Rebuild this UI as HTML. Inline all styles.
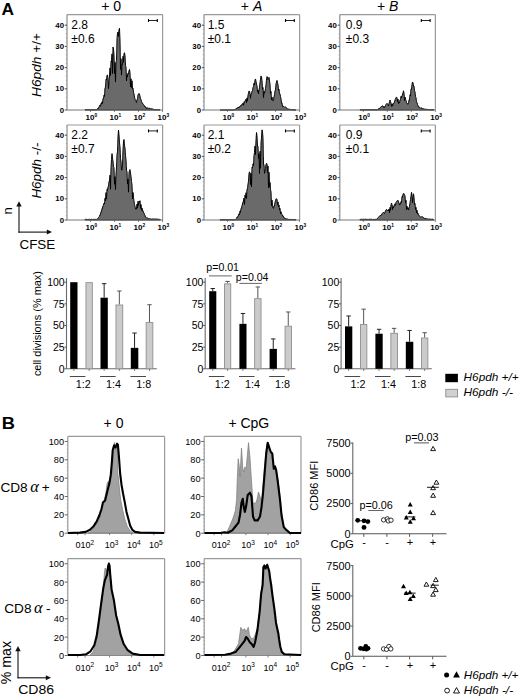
<!DOCTYPE html>
<html><head><meta charset="utf-8"><style>
html,body{margin:0;padding:0;background:#fff;}
svg{display:block;font-family:"Liberation Sans",sans-serif;}
</style></head><body>
<svg width="520" height="698" viewBox="0 0 520 698">
<defs><filter id="bl" x="-5%" y="-5%" width="110%" height="110%"><feGaussianBlur stdDeviation="0.3"/></filter></defs>
<rect width="520" height="698" fill="#fff"/>
<text x="1.50" y="15.00" font-size="16" font-weight="bold" textLength="12.5" lengthAdjust="spacingAndGlyphs">A</text>
<text x="101.20" y="11.30" font-size="14" textLength="20" lengthAdjust="spacingAndGlyphs">+ 0</text>
<text x="240.8" y="11.4" font-size="14">+ <tspan font-style="italic">A</tspan></text>
<text x="377" y="11.1" font-size="14">+ <tspan font-style="italic">B</tspan></text>
<path d="M85.00,110.00 L85.00,109.70 L85.50,109.79 L86.00,109.70 L86.50,109.73 L87.00,109.69 L87.50,109.77 L88.00,109.70 L88.50,109.78 L89.00,109.69 L89.50,109.71 L90.00,109.69 L90.50,109.72 L91.00,109.69 L91.50,109.70 L92.00,109.70 L92.50,109.80 L93.00,109.70 L93.50,109.72 L94.00,109.70 L94.50,109.73 L95.00,109.70 L95.50,109.71 L96.00,109.70 L96.50,109.71 L97.00,109.07 L97.50,108.71 L98.00,107.86 L98.50,108.35 L99.00,106.59 L99.50,106.20 L100.00,105.02 L100.50,106.25 L101.00,103.48 L101.50,104.14 L102.00,101.82 L102.50,103.43 L103.00,98.44 L103.50,98.56 L104.00,95.16 L104.50,96.46 L105.00,87.58 L105.50,87.32 L106.00,79.26 L106.50,79.98 L107.00,75.20 L107.50,75.13 L108.00,77.99 L108.50,88.66 L109.00,80.68 L109.50,77.14 L110.00,67.85 L110.50,75.41 L111.00,61.13 L111.50,61.82 L112.00,53.85 L112.50,73.55 L113.00,47.03 L113.50,49.16 L114.00,54.37 L114.50,73.52 L115.00,62.64 L115.50,82.08 L116.00,61.64 L116.50,60.75 L117.00,38.78 L117.50,32.85 L118.00,32.03 L118.50,36.47 L119.00,29.50 L119.50,28.33 L120.00,40.00 L120.50,69.36 L121.00,58.74 L121.50,75.18 L122.00,63.93 L122.50,64.42 L123.00,56.25 L123.50,62.28 L124.00,53.27 L124.50,52.82 L125.00,55.44 L125.50,65.78 L126.00,66.90 L126.50,80.89 L127.00,74.59 L127.50,76.95 L128.00,73.04 L128.50,73.81 L129.00,70.76 L129.50,69.46 L130.00,72.53 L130.50,86.94 L131.00,78.76 L131.50,87.62 L132.00,80.75 L132.50,88.93 L133.00,88.15 L133.50,92.34 L134.00,93.95 L134.50,97.19 L135.00,99.09 L135.50,100.34 L136.00,101.13 L136.50,102.50 L137.00,99.68 L137.50,98.63 L138.00,94.87 L138.50,94.05 L139.00,93.37 L139.50,94.25 L140.00,96.16 L140.50,98.94 L141.00,99.48 L141.50,101.59 L142.00,102.32 L142.50,103.46 L143.00,103.63 L143.50,104.46 L144.00,105.11 L144.50,106.52 L145.00,106.12 L145.50,107.34 L146.00,107.18 L146.50,108.58 L147.00,107.75 L147.50,107.99 L148.00,107.93 L148.50,108.31 L149.00,108.09 L149.50,108.24 L150.00,108.25 L150.50,108.85 L151.00,108.43 L151.50,108.71 L152.00,108.68 L152.50,108.93 L153.00,108.97 L153.50,109.35 L154.00,109.21 L154.50,109.59 L155.00,109.49 L155.50,109.74 L156.00,109.69 L156.50,109.73 L157.00,109.70 L157.50,109.72 L158.00,109.70 L158.50,109.71 L159.00,109.69 L159.50,109.72 L160.00,109.70 L160.00,110.00 Z" fill="#6b6b6b" stroke="#000" stroke-width="0.95" stroke-linejoin="miter" filter="url(#bl)"/>
<line x1="67.00" y1="14.60" x2="162.60" y2="14.60" stroke="#9a9a9a" stroke-width="1.2"/>
<line x1="162.60" y1="14.60" x2="162.60" y2="110.00" stroke="#9a9a9a" stroke-width="1.2"/>
<line x1="67.00" y1="14.60" x2="67.00" y2="110.00" stroke="#8c8c8c" stroke-width="1.2"/>
<line x1="67.00" y1="110.00" x2="162.60" y2="110.00" stroke="#777" stroke-width="1.2"/>
<line x1="65.80" y1="105.76" x2="67.00" y2="105.76" stroke="#999" stroke-width="0.8"/>
<line x1="65.80" y1="101.52" x2="67.00" y2="101.52" stroke="#999" stroke-width="0.8"/>
<line x1="65.80" y1="97.28" x2="67.00" y2="97.28" stroke="#999" stroke-width="0.8"/>
<line x1="65.80" y1="93.04" x2="67.00" y2="93.04" stroke="#999" stroke-width="0.8"/>
<line x1="65.80" y1="88.80" x2="67.00" y2="88.80" stroke="#999" stroke-width="0.8"/>
<line x1="65.80" y1="84.56" x2="67.00" y2="84.56" stroke="#999" stroke-width="0.8"/>
<line x1="65.80" y1="80.32" x2="67.00" y2="80.32" stroke="#999" stroke-width="0.8"/>
<line x1="65.80" y1="76.08" x2="67.00" y2="76.08" stroke="#999" stroke-width="0.8"/>
<line x1="65.80" y1="71.84" x2="67.00" y2="71.84" stroke="#999" stroke-width="0.8"/>
<line x1="65.80" y1="67.60" x2="67.00" y2="67.60" stroke="#999" stroke-width="0.8"/>
<line x1="65.80" y1="63.36" x2="67.00" y2="63.36" stroke="#999" stroke-width="0.8"/>
<line x1="65.80" y1="59.12" x2="67.00" y2="59.12" stroke="#999" stroke-width="0.8"/>
<line x1="65.80" y1="54.88" x2="67.00" y2="54.88" stroke="#999" stroke-width="0.8"/>
<line x1="65.80" y1="50.64" x2="67.00" y2="50.64" stroke="#999" stroke-width="0.8"/>
<line x1="65.80" y1="46.40" x2="67.00" y2="46.40" stroke="#999" stroke-width="0.8"/>
<line x1="65.80" y1="42.16" x2="67.00" y2="42.16" stroke="#999" stroke-width="0.8"/>
<line x1="65.80" y1="37.92" x2="67.00" y2="37.92" stroke="#999" stroke-width="0.8"/>
<line x1="65.80" y1="33.68" x2="67.00" y2="33.68" stroke="#999" stroke-width="0.8"/>
<line x1="65.80" y1="29.44" x2="67.00" y2="29.44" stroke="#999" stroke-width="0.8"/>
<line x1="65.80" y1="25.20" x2="67.00" y2="25.20" stroke="#999" stroke-width="0.8"/>
<line x1="64.80" y1="110.00" x2="67.00" y2="110.00" stroke="#555" stroke-width="1"/>
<text x="64.00" y="112.60" font-size="7.8" font-weight="bold" text-anchor="end">0</text>
<line x1="64.80" y1="88.80" x2="67.00" y2="88.80" stroke="#555" stroke-width="1"/>
<text x="64.00" y="91.40" font-size="7.8" font-weight="bold" text-anchor="end">10</text>
<line x1="64.80" y1="67.60" x2="67.00" y2="67.60" stroke="#555" stroke-width="1"/>
<text x="64.00" y="70.20" font-size="7.8" font-weight="bold" text-anchor="end">20</text>
<line x1="64.80" y1="46.40" x2="67.00" y2="46.40" stroke="#555" stroke-width="1"/>
<text x="64.00" y="49.00" font-size="7.8" font-weight="bold" text-anchor="end">30</text>
<line x1="64.80" y1="25.20" x2="67.00" y2="25.20" stroke="#555" stroke-width="1"/>
<text x="64.00" y="27.80" font-size="7.8" font-weight="bold" text-anchor="end">40</text>
<line x1="90.50" y1="110.00" x2="90.50" y2="112.00" stroke="#666" stroke-width="0.8"/>
<text x="85.50" y="119.70" font-size="8" font-weight="bold">10<tspan font-size="4.8" dy="-3.0">0</tspan></text>
<line x1="114.50" y1="110.00" x2="114.50" y2="112.00" stroke="#666" stroke-width="0.8"/>
<text x="109.50" y="119.70" font-size="8" font-weight="bold">10<tspan font-size="4.8" dy="-3.0">1</tspan></text>
<line x1="138.50" y1="110.00" x2="138.50" y2="112.00" stroke="#666" stroke-width="0.8"/>
<text x="133.50" y="119.70" font-size="8" font-weight="bold">10<tspan font-size="4.8" dy="-3.0">2</tspan></text>
<line x1="162.50" y1="110.00" x2="162.50" y2="112.00" stroke="#666" stroke-width="0.8"/>
<text x="157.50" y="119.70" font-size="8" font-weight="bold">10<tspan font-size="4.8" dy="-3.0">3</tspan></text>
<line x1="148.50" y1="20.50" x2="157.30" y2="20.50" stroke="#222" stroke-width="1"/>
<line x1="148.50" y1="19.00" x2="148.50" y2="22.00" stroke="#000" stroke-width="1.1"/>
<line x1="157.30" y1="19.00" x2="157.30" y2="22.00" stroke="#000" stroke-width="1.1"/>
<text x="71.30" y="28.80" font-size="12">2.8</text>
<text x="71.30" y="42.70" font-size="12">±0.6</text>
<path d="M220.00,110.00 L220.00,110.00 L220.50,110.00 L221.00,110.00 L221.50,110.00 L222.00,110.00 L222.50,110.00 L223.00,110.00 L223.50,110.00 L224.00,110.00 L224.50,110.00 L225.00,110.00 L225.50,110.00 L226.00,110.00 L226.50,110.00 L227.00,110.00 L227.50,110.00 L228.00,110.00 L228.50,110.00 L229.00,110.00 L229.50,110.00 L230.00,110.00 L230.50,110.00 L231.00,110.00 L231.50,110.00 L232.00,110.00 L232.50,110.00 L233.00,110.00 L233.50,110.00 L234.00,109.87 L234.50,109.73 L235.00,109.22 L235.50,109.17 L236.00,108.56 L236.50,108.48 L237.00,107.88 L237.50,107.97 L238.00,107.33 L238.50,108.03 L239.00,106.74 L239.50,107.08 L240.00,106.12 L240.50,106.11 L241.00,105.15 L241.50,105.66 L242.00,104.04 L242.50,104.20 L243.00,103.14 L243.50,105.30 L244.00,101.88 L244.50,102.54 L245.00,100.62 L245.50,100.61 L246.00,99.25 L246.50,102.56 L247.00,97.91 L247.50,100.77 L248.00,95.13 L248.50,93.22 L249.00,90.92 L249.50,91.25 L250.00,93.23 L250.50,98.29 L251.00,93.81 L251.50,93.53 L252.00,91.08 L252.50,90.68 L253.00,87.34 L253.50,86.65 L254.00,83.15 L254.50,84.90 L255.00,80.03 L255.50,78.96 L256.00,81.26 L256.50,84.14 L257.00,85.76 L257.50,91.84 L258.00,90.14 L258.50,93.84 L259.00,89.55 L259.50,87.74 L260.00,82.47 L260.50,79.27 L261.00,75.93 L261.50,76.92 L262.00,80.62 L262.50,89.26 L263.00,87.56 L263.50,97.56 L264.00,91.32 L264.50,93.29 L265.00,91.18 L265.50,88.60 L266.00,84.49 L266.50,80.14 L267.00,76.55 L267.50,78.27 L268.00,79.60 L268.50,78.11 L269.00,77.33 L269.50,80.96 L270.00,84.02 L270.50,93.56 L271.00,91.39 L271.50,99.82 L272.00,97.13 L272.50,99.83 L273.00,101.03 L273.50,99.77 L274.00,96.54 L274.50,94.95 L275.00,90.81 L275.50,89.85 L276.00,83.92 L276.50,82.07 L277.00,80.43 L277.50,82.59 L278.00,84.55 L278.50,90.45 L279.00,89.19 L279.50,93.67 L280.00,93.77 L280.50,96.50 L281.00,98.90 L281.50,102.96 L282.00,102.76 L282.50,106.47 L283.00,105.88 L283.50,106.63 L284.00,106.41 L284.50,107.25 L285.00,106.71 L285.50,107.13 L286.00,107.38 L286.50,107.86 L287.00,108.27 L287.50,108.79 L288.00,108.95 L288.50,109.07 L289.00,109.15 L289.50,109.28 L290.00,109.34 L290.50,109.48 L291.00,109.52 L291.50,109.72 L292.00,109.61 L292.50,109.70 L293.00,109.71 L293.50,109.77 L294.00,109.80 L294.50,109.86 L295.00,109.90 L295.50,109.96 L296.00,110.00 L296.00,110.00 Z" fill="#6b6b6b" stroke="#000" stroke-width="0.95" stroke-linejoin="miter" filter="url(#bl)"/>
<line x1="204.00" y1="14.60" x2="299.60" y2="14.60" stroke="#9a9a9a" stroke-width="1.2"/>
<line x1="299.60" y1="14.60" x2="299.60" y2="110.00" stroke="#9a9a9a" stroke-width="1.2"/>
<line x1="204.00" y1="14.60" x2="204.00" y2="110.00" stroke="#8c8c8c" stroke-width="1.2"/>
<line x1="204.00" y1="110.00" x2="299.60" y2="110.00" stroke="#777" stroke-width="1.2"/>
<line x1="202.80" y1="105.76" x2="204.00" y2="105.76" stroke="#999" stroke-width="0.8"/>
<line x1="202.80" y1="101.52" x2="204.00" y2="101.52" stroke="#999" stroke-width="0.8"/>
<line x1="202.80" y1="97.28" x2="204.00" y2="97.28" stroke="#999" stroke-width="0.8"/>
<line x1="202.80" y1="93.04" x2="204.00" y2="93.04" stroke="#999" stroke-width="0.8"/>
<line x1="202.80" y1="88.80" x2="204.00" y2="88.80" stroke="#999" stroke-width="0.8"/>
<line x1="202.80" y1="84.56" x2="204.00" y2="84.56" stroke="#999" stroke-width="0.8"/>
<line x1="202.80" y1="80.32" x2="204.00" y2="80.32" stroke="#999" stroke-width="0.8"/>
<line x1="202.80" y1="76.08" x2="204.00" y2="76.08" stroke="#999" stroke-width="0.8"/>
<line x1="202.80" y1="71.84" x2="204.00" y2="71.84" stroke="#999" stroke-width="0.8"/>
<line x1="202.80" y1="67.60" x2="204.00" y2="67.60" stroke="#999" stroke-width="0.8"/>
<line x1="202.80" y1="63.36" x2="204.00" y2="63.36" stroke="#999" stroke-width="0.8"/>
<line x1="202.80" y1="59.12" x2="204.00" y2="59.12" stroke="#999" stroke-width="0.8"/>
<line x1="202.80" y1="54.88" x2="204.00" y2="54.88" stroke="#999" stroke-width="0.8"/>
<line x1="202.80" y1="50.64" x2="204.00" y2="50.64" stroke="#999" stroke-width="0.8"/>
<line x1="202.80" y1="46.40" x2="204.00" y2="46.40" stroke="#999" stroke-width="0.8"/>
<line x1="202.80" y1="42.16" x2="204.00" y2="42.16" stroke="#999" stroke-width="0.8"/>
<line x1="202.80" y1="37.92" x2="204.00" y2="37.92" stroke="#999" stroke-width="0.8"/>
<line x1="202.80" y1="33.68" x2="204.00" y2="33.68" stroke="#999" stroke-width="0.8"/>
<line x1="202.80" y1="29.44" x2="204.00" y2="29.44" stroke="#999" stroke-width="0.8"/>
<line x1="202.80" y1="25.20" x2="204.00" y2="25.20" stroke="#999" stroke-width="0.8"/>
<line x1="201.80" y1="110.00" x2="204.00" y2="110.00" stroke="#555" stroke-width="1"/>
<text x="201.00" y="112.60" font-size="7.8" font-weight="bold" text-anchor="end">0</text>
<line x1="201.80" y1="88.80" x2="204.00" y2="88.80" stroke="#555" stroke-width="1"/>
<text x="201.00" y="91.40" font-size="7.8" font-weight="bold" text-anchor="end">10</text>
<line x1="201.80" y1="67.60" x2="204.00" y2="67.60" stroke="#555" stroke-width="1"/>
<text x="201.00" y="70.20" font-size="7.8" font-weight="bold" text-anchor="end">20</text>
<line x1="201.80" y1="46.40" x2="204.00" y2="46.40" stroke="#555" stroke-width="1"/>
<text x="201.00" y="49.00" font-size="7.8" font-weight="bold" text-anchor="end">30</text>
<line x1="201.80" y1="25.20" x2="204.00" y2="25.20" stroke="#555" stroke-width="1"/>
<text x="201.00" y="27.80" font-size="7.8" font-weight="bold" text-anchor="end">40</text>
<line x1="227.50" y1="110.00" x2="227.50" y2="112.00" stroke="#666" stroke-width="0.8"/>
<text x="222.50" y="119.70" font-size="8" font-weight="bold">10<tspan font-size="4.8" dy="-3.0">0</tspan></text>
<line x1="251.50" y1="110.00" x2="251.50" y2="112.00" stroke="#666" stroke-width="0.8"/>
<text x="246.50" y="119.70" font-size="8" font-weight="bold">10<tspan font-size="4.8" dy="-3.0">1</tspan></text>
<line x1="275.50" y1="110.00" x2="275.50" y2="112.00" stroke="#666" stroke-width="0.8"/>
<text x="270.50" y="119.70" font-size="8" font-weight="bold">10<tspan font-size="4.8" dy="-3.0">2</tspan></text>
<line x1="299.50" y1="110.00" x2="299.50" y2="112.00" stroke="#666" stroke-width="0.8"/>
<text x="294.50" y="119.70" font-size="8" font-weight="bold">10<tspan font-size="4.8" dy="-3.0">3</tspan></text>
<line x1="285.50" y1="20.50" x2="294.30" y2="20.50" stroke="#222" stroke-width="1"/>
<line x1="285.50" y1="19.00" x2="285.50" y2="22.00" stroke="#000" stroke-width="1.1"/>
<line x1="294.30" y1="19.00" x2="294.30" y2="22.00" stroke="#000" stroke-width="1.1"/>
<text x="207.70" y="28.80" font-size="12">1.5</text>
<text x="207.70" y="42.70" font-size="12">±0.1</text>
<path d="M360.00,110.00 L360.00,109.70 L360.50,109.74 L361.00,109.69 L361.50,109.74 L362.00,109.70 L362.50,109.78 L363.00,109.70 L363.50,109.81 L364.00,109.69 L364.50,109.74 L365.00,109.70 L365.50,109.76 L366.00,109.70 L366.50,109.77 L367.00,109.70 L367.50,109.77 L368.00,109.70 L368.50,109.72 L369.00,109.70 L369.50,109.77 L370.00,109.69 L370.50,109.80 L371.00,109.69 L371.50,109.74 L372.00,109.69 L372.50,109.70 L373.00,109.70 L373.50,109.81 L374.00,109.69 L374.50,109.72 L375.00,109.70 L375.50,109.72 L376.00,109.69 L376.50,109.80 L377.00,109.63 L377.50,109.53 L378.00,108.97 L378.50,108.75 L379.00,108.30 L379.50,108.66 L380.00,107.65 L380.50,107.44 L381.00,106.78 L381.50,106.51 L382.00,105.96 L382.50,105.80 L383.00,106.07 L383.50,107.48 L384.00,106.58 L384.50,107.63 L385.00,106.22 L385.50,105.76 L386.00,104.45 L386.50,103.76 L387.00,103.24 L387.50,103.96 L388.00,104.67 L388.50,106.02 L389.00,103.46 L389.50,101.80 L390.00,100.00 L390.50,101.53 L391.00,103.00 L391.50,106.38 L392.00,104.19 L392.50,106.17 L393.00,103.61 L393.50,104.15 L394.00,102.54 L394.50,102.12 L395.00,99.95 L395.50,98.71 L396.00,97.42 L396.50,97.22 L397.00,97.74 L397.50,101.59 L398.00,99.12 L398.50,103.70 L399.00,102.38 L399.50,103.01 L400.00,99.82 L400.50,99.81 L401.00,96.32 L401.50,97.80 L402.00,95.39 L402.50,95.21 L403.00,92.72 L403.50,90.80 L404.00,92.98 L404.50,100.59 L405.00,97.03 L405.50,99.20 L406.00,100.45 L406.50,102.59 L407.00,102.94 L407.50,104.07 L408.00,104.52 L408.50,103.71 L409.00,99.79 L409.50,100.06 L410.00,94.80 L410.50,95.88 L411.00,88.92 L411.50,89.17 L412.00,84.30 L412.50,81.97 L413.00,82.85 L413.50,86.01 L414.00,86.00 L414.50,90.59 L415.00,91.87 L415.50,96.54 L416.00,97.67 L416.50,101.78 L417.00,102.52 L417.50,104.42 L418.00,105.43 L418.50,107.02 L419.00,107.01 L419.50,107.31 L420.00,107.40 L420.50,108.24 L421.00,107.71 L421.50,108.01 L422.00,108.08 L422.50,108.81 L423.00,108.45 L423.50,108.64 L424.00,108.70 L424.50,109.15 L425.00,108.92 L425.50,109.11 L426.00,109.14 L426.50,109.42 L427.00,109.28 L427.50,109.39 L428.00,109.39 L428.50,109.49 L429.00,109.50 L429.50,109.61 L430.00,109.61 L430.50,109.69 L431.00,109.69 L431.50,109.81 L432.00,109.69 L432.50,109.79 L433.00,109.69 L433.50,109.79 L434.00,109.70 L434.00,110.00 Z" fill="#6b6b6b" stroke="#000" stroke-width="0.95" stroke-linejoin="miter" filter="url(#bl)"/>
<line x1="339.80" y1="14.60" x2="435.40" y2="14.60" stroke="#9a9a9a" stroke-width="1.2"/>
<line x1="435.40" y1="14.60" x2="435.40" y2="110.00" stroke="#9a9a9a" stroke-width="1.2"/>
<line x1="339.80" y1="14.60" x2="339.80" y2="110.00" stroke="#8c8c8c" stroke-width="1.2"/>
<line x1="339.80" y1="110.00" x2="435.40" y2="110.00" stroke="#777" stroke-width="1.2"/>
<line x1="338.60" y1="105.76" x2="339.80" y2="105.76" stroke="#999" stroke-width="0.8"/>
<line x1="338.60" y1="101.52" x2="339.80" y2="101.52" stroke="#999" stroke-width="0.8"/>
<line x1="338.60" y1="97.28" x2="339.80" y2="97.28" stroke="#999" stroke-width="0.8"/>
<line x1="338.60" y1="93.04" x2="339.80" y2="93.04" stroke="#999" stroke-width="0.8"/>
<line x1="338.60" y1="88.80" x2="339.80" y2="88.80" stroke="#999" stroke-width="0.8"/>
<line x1="338.60" y1="84.56" x2="339.80" y2="84.56" stroke="#999" stroke-width="0.8"/>
<line x1="338.60" y1="80.32" x2="339.80" y2="80.32" stroke="#999" stroke-width="0.8"/>
<line x1="338.60" y1="76.08" x2="339.80" y2="76.08" stroke="#999" stroke-width="0.8"/>
<line x1="338.60" y1="71.84" x2="339.80" y2="71.84" stroke="#999" stroke-width="0.8"/>
<line x1="338.60" y1="67.60" x2="339.80" y2="67.60" stroke="#999" stroke-width="0.8"/>
<line x1="338.60" y1="63.36" x2="339.80" y2="63.36" stroke="#999" stroke-width="0.8"/>
<line x1="338.60" y1="59.12" x2="339.80" y2="59.12" stroke="#999" stroke-width="0.8"/>
<line x1="338.60" y1="54.88" x2="339.80" y2="54.88" stroke="#999" stroke-width="0.8"/>
<line x1="338.60" y1="50.64" x2="339.80" y2="50.64" stroke="#999" stroke-width="0.8"/>
<line x1="338.60" y1="46.40" x2="339.80" y2="46.40" stroke="#999" stroke-width="0.8"/>
<line x1="338.60" y1="42.16" x2="339.80" y2="42.16" stroke="#999" stroke-width="0.8"/>
<line x1="338.60" y1="37.92" x2="339.80" y2="37.92" stroke="#999" stroke-width="0.8"/>
<line x1="338.60" y1="33.68" x2="339.80" y2="33.68" stroke="#999" stroke-width="0.8"/>
<line x1="338.60" y1="29.44" x2="339.80" y2="29.44" stroke="#999" stroke-width="0.8"/>
<line x1="338.60" y1="25.20" x2="339.80" y2="25.20" stroke="#999" stroke-width="0.8"/>
<line x1="337.60" y1="110.00" x2="339.80" y2="110.00" stroke="#555" stroke-width="1"/>
<text x="336.80" y="112.60" font-size="7.8" font-weight="bold" text-anchor="end">0</text>
<line x1="337.60" y1="88.80" x2="339.80" y2="88.80" stroke="#555" stroke-width="1"/>
<text x="336.80" y="91.40" font-size="7.8" font-weight="bold" text-anchor="end">10</text>
<line x1="337.60" y1="67.60" x2="339.80" y2="67.60" stroke="#555" stroke-width="1"/>
<text x="336.80" y="70.20" font-size="7.8" font-weight="bold" text-anchor="end">20</text>
<line x1="337.60" y1="46.40" x2="339.80" y2="46.40" stroke="#555" stroke-width="1"/>
<text x="336.80" y="49.00" font-size="7.8" font-weight="bold" text-anchor="end">30</text>
<line x1="337.60" y1="25.20" x2="339.80" y2="25.20" stroke="#555" stroke-width="1"/>
<text x="336.80" y="27.80" font-size="7.8" font-weight="bold" text-anchor="end">40</text>
<line x1="363.30" y1="110.00" x2="363.30" y2="112.00" stroke="#666" stroke-width="0.8"/>
<text x="358.30" y="119.70" font-size="8" font-weight="bold">10<tspan font-size="4.8" dy="-3.0">0</tspan></text>
<line x1="387.30" y1="110.00" x2="387.30" y2="112.00" stroke="#666" stroke-width="0.8"/>
<text x="382.30" y="119.70" font-size="8" font-weight="bold">10<tspan font-size="4.8" dy="-3.0">1</tspan></text>
<line x1="411.30" y1="110.00" x2="411.30" y2="112.00" stroke="#666" stroke-width="0.8"/>
<text x="406.30" y="119.70" font-size="8" font-weight="bold">10<tspan font-size="4.8" dy="-3.0">2</tspan></text>
<line x1="435.30" y1="110.00" x2="435.30" y2="112.00" stroke="#666" stroke-width="0.8"/>
<text x="430.30" y="119.70" font-size="8" font-weight="bold">10<tspan font-size="4.8" dy="-3.0">3</tspan></text>
<line x1="421.30" y1="20.50" x2="430.10" y2="20.50" stroke="#222" stroke-width="1"/>
<line x1="421.30" y1="19.00" x2="421.30" y2="22.00" stroke="#000" stroke-width="1.1"/>
<line x1="430.10" y1="19.00" x2="430.10" y2="22.00" stroke="#000" stroke-width="1.1"/>
<text x="345.80" y="28.80" font-size="12">0.9</text>
<text x="345.80" y="42.70" font-size="12">±0.3</text>
<path d="M85.00,220.00 L85.00,219.30 L85.50,219.32 L86.00,219.30 L86.50,219.32 L87.00,219.28 L87.50,219.49 L88.00,219.30 L88.50,219.38 L89.00,219.30 L89.50,219.31 L90.00,219.28 L90.50,219.50 L91.00,219.28 L91.50,219.32 L92.00,219.29 L92.50,219.47 L93.00,219.28 L93.50,219.33 L94.00,219.29 L94.50,219.37 L95.00,219.29 L95.50,219.34 L96.00,219.28 L96.50,219.39 L97.00,219.28 L97.50,219.16 L98.00,218.19 L98.50,217.77 L99.00,216.65 L99.50,216.25 L100.00,214.53 L100.50,214.68 L101.00,211.53 L101.50,211.56 L102.00,208.35 L102.50,208.47 L103.00,205.46 L103.50,205.15 L104.00,203.13 L104.50,204.06 L105.00,198.19 L105.50,200.95 L106.00,192.62 L106.50,199.05 L107.00,189.37 L107.50,190.49 L108.00,186.89 L108.50,186.13 L109.00,181.32 L109.50,181.73 L110.00,175.09 L110.50,189.19 L111.00,167.27 L111.50,159.68 L112.00,153.61 L112.50,158.15 L113.00,161.05 L113.50,166.85 L114.00,167.64 L114.50,184.23 L115.00,176.78 L115.50,189.56 L116.00,173.85 L116.50,167.94 L117.00,154.35 L117.50,151.76 L118.00,136.22 L118.50,130.00 L119.00,134.86 L119.50,142.86 L120.00,146.93 L120.50,158.65 L121.00,161.32 L121.50,170.19 L122.00,169.88 L122.50,164.85 L123.00,149.27 L123.50,141.96 L124.00,139.48 L124.50,145.29 L125.00,147.97 L125.50,155.54 L126.00,159.46 L126.50,170.22 L127.00,171.55 L127.50,183.76 L128.00,179.16 L128.50,192.16 L129.00,172.30 L129.50,170.51 L130.00,169.52 L130.50,173.09 L131.00,176.14 L131.50,181.58 L132.00,184.40 L132.50,198.96 L133.00,192.45 L133.50,197.32 L134.00,200.92 L134.50,204.60 L135.00,206.20 L135.50,209.07 L136.00,209.08 L136.50,209.07 L137.00,204.05 L137.50,208.12 L138.00,201.39 L138.50,205.41 L139.00,201.15 L139.50,202.48 L140.00,200.69 L140.50,208.31 L141.00,204.56 L141.50,210.33 L142.00,207.98 L142.50,210.92 L143.00,210.50 L143.50,212.55 L144.00,212.88 L144.50,214.59 L145.00,215.29 L145.50,217.14 L146.00,217.31 L146.50,217.73 L147.00,217.73 L147.50,217.99 L148.00,218.13 L148.50,218.62 L149.00,218.52 L149.50,218.78 L150.00,218.77 L150.50,218.86 L151.00,218.80 L151.50,219.13 L152.00,218.77 L152.50,218.99 L153.00,218.79 L153.50,219.01 L154.00,218.77 L154.50,219.10 L155.00,218.85 L155.50,218.91 L156.00,218.93 L156.50,219.12 L157.00,219.01 L157.50,219.09 L158.00,219.09 L158.50,219.23 L159.00,219.17 L159.50,219.42 L160.00,219.26 L160.40,220.00 Z" fill="#6b6b6b" stroke="#000" stroke-width="0.95" stroke-linejoin="miter" filter="url(#bl)"/>
<line x1="67.00" y1="125.00" x2="162.60" y2="125.00" stroke="#9a9a9a" stroke-width="1.2"/>
<line x1="162.60" y1="125.00" x2="162.60" y2="220.00" stroke="#9a9a9a" stroke-width="1.2"/>
<line x1="67.00" y1="125.00" x2="67.00" y2="220.00" stroke="#8c8c8c" stroke-width="1.2"/>
<line x1="67.00" y1="220.00" x2="162.60" y2="220.00" stroke="#777" stroke-width="1.2"/>
<line x1="65.80" y1="215.76" x2="67.00" y2="215.76" stroke="#999" stroke-width="0.8"/>
<line x1="65.80" y1="211.52" x2="67.00" y2="211.52" stroke="#999" stroke-width="0.8"/>
<line x1="65.80" y1="207.28" x2="67.00" y2="207.28" stroke="#999" stroke-width="0.8"/>
<line x1="65.80" y1="203.04" x2="67.00" y2="203.04" stroke="#999" stroke-width="0.8"/>
<line x1="65.80" y1="198.80" x2="67.00" y2="198.80" stroke="#999" stroke-width="0.8"/>
<line x1="65.80" y1="194.56" x2="67.00" y2="194.56" stroke="#999" stroke-width="0.8"/>
<line x1="65.80" y1="190.32" x2="67.00" y2="190.32" stroke="#999" stroke-width="0.8"/>
<line x1="65.80" y1="186.08" x2="67.00" y2="186.08" stroke="#999" stroke-width="0.8"/>
<line x1="65.80" y1="181.84" x2="67.00" y2="181.84" stroke="#999" stroke-width="0.8"/>
<line x1="65.80" y1="177.60" x2="67.00" y2="177.60" stroke="#999" stroke-width="0.8"/>
<line x1="65.80" y1="173.36" x2="67.00" y2="173.36" stroke="#999" stroke-width="0.8"/>
<line x1="65.80" y1="169.12" x2="67.00" y2="169.12" stroke="#999" stroke-width="0.8"/>
<line x1="65.80" y1="164.88" x2="67.00" y2="164.88" stroke="#999" stroke-width="0.8"/>
<line x1="65.80" y1="160.64" x2="67.00" y2="160.64" stroke="#999" stroke-width="0.8"/>
<line x1="65.80" y1="156.40" x2="67.00" y2="156.40" stroke="#999" stroke-width="0.8"/>
<line x1="65.80" y1="152.16" x2="67.00" y2="152.16" stroke="#999" stroke-width="0.8"/>
<line x1="65.80" y1="147.92" x2="67.00" y2="147.92" stroke="#999" stroke-width="0.8"/>
<line x1="65.80" y1="143.68" x2="67.00" y2="143.68" stroke="#999" stroke-width="0.8"/>
<line x1="65.80" y1="139.44" x2="67.00" y2="139.44" stroke="#999" stroke-width="0.8"/>
<line x1="65.80" y1="135.20" x2="67.00" y2="135.20" stroke="#999" stroke-width="0.8"/>
<line x1="64.80" y1="220.00" x2="67.00" y2="220.00" stroke="#555" stroke-width="1"/>
<text x="64.00" y="222.60" font-size="7.8" font-weight="bold" text-anchor="end">0</text>
<line x1="64.80" y1="198.80" x2="67.00" y2="198.80" stroke="#555" stroke-width="1"/>
<text x="64.00" y="201.40" font-size="7.8" font-weight="bold" text-anchor="end">10</text>
<line x1="64.80" y1="177.60" x2="67.00" y2="177.60" stroke="#555" stroke-width="1"/>
<text x="64.00" y="180.20" font-size="7.8" font-weight="bold" text-anchor="end">20</text>
<line x1="64.80" y1="156.40" x2="67.00" y2="156.40" stroke="#555" stroke-width="1"/>
<text x="64.00" y="159.00" font-size="7.8" font-weight="bold" text-anchor="end">30</text>
<line x1="64.80" y1="135.20" x2="67.00" y2="135.20" stroke="#555" stroke-width="1"/>
<text x="64.00" y="137.80" font-size="7.8" font-weight="bold" text-anchor="end">40</text>
<line x1="90.50" y1="220.00" x2="90.50" y2="222.00" stroke="#666" stroke-width="0.8"/>
<text x="85.50" y="229.70" font-size="8" font-weight="bold">10<tspan font-size="4.8" dy="-3.0">0</tspan></text>
<line x1="114.50" y1="220.00" x2="114.50" y2="222.00" stroke="#666" stroke-width="0.8"/>
<text x="109.50" y="229.70" font-size="8" font-weight="bold">10<tspan font-size="4.8" dy="-3.0">1</tspan></text>
<line x1="138.50" y1="220.00" x2="138.50" y2="222.00" stroke="#666" stroke-width="0.8"/>
<text x="133.50" y="229.70" font-size="8" font-weight="bold">10<tspan font-size="4.8" dy="-3.0">2</tspan></text>
<line x1="162.50" y1="220.00" x2="162.50" y2="222.00" stroke="#666" stroke-width="0.8"/>
<text x="157.50" y="229.70" font-size="8" font-weight="bold">10<tspan font-size="4.8" dy="-3.0">3</tspan></text>
<line x1="148.50" y1="130.90" x2="157.30" y2="130.90" stroke="#222" stroke-width="1"/>
<line x1="148.50" y1="129.40" x2="148.50" y2="132.40" stroke="#000" stroke-width="1.1"/>
<line x1="157.30" y1="129.40" x2="157.30" y2="132.40" stroke="#000" stroke-width="1.1"/>
<text x="71.30" y="138.80" font-size="12">2.2</text>
<text x="71.30" y="152.50" font-size="12">±0.7</text>
<path d="M220.00,220.00 L220.00,219.59 L220.50,219.70 L221.00,219.59 L221.50,219.70 L222.00,219.60 L222.50,219.65 L223.00,219.59 L223.50,219.72 L224.00,219.59 L224.50,219.62 L225.00,219.59 L225.50,219.61 L226.00,219.60 L226.50,219.74 L227.00,219.60 L227.50,219.69 L228.00,219.59 L228.50,219.60 L229.00,219.59 L229.50,219.61 L230.00,219.59 L230.50,219.71 L231.00,219.59 L231.50,219.66 L232.00,219.60 L232.50,219.74 L233.00,219.59 L233.50,219.72 L234.00,219.60 L234.50,219.61 L235.00,219.60 L235.50,219.49 L236.00,218.71 L236.50,218.34 L237.00,217.20 L237.50,217.41 L238.00,215.70 L238.50,215.62 L239.00,213.71 L239.50,214.96 L240.00,210.95 L240.50,212.41 L241.00,208.31 L241.50,208.34 L242.00,205.55 L242.50,204.00 L243.00,201.56 L243.50,201.49 L244.00,197.99 L244.50,204.52 L245.00,195.18 L245.50,197.81 L246.00,192.70 L246.50,198.42 L247.00,189.05 L247.50,188.84 L248.00,183.98 L248.50,181.20 L249.00,173.49 L249.50,171.81 L250.00,173.69 L250.50,184.58 L251.00,173.05 L251.50,186.95 L252.00,167.09 L252.50,167.79 L253.00,163.86 L253.50,165.51 L254.00,155.23 L254.50,152.34 L255.00,146.02 L255.50,154.59 L256.00,139.80 L256.50,132.47 L257.00,135.85 L257.50,146.23 L258.00,146.19 L258.50,158.46 L259.00,153.97 L259.50,173.52 L260.00,151.37 L260.50,168.31 L261.00,142.87 L261.50,137.18 L262.00,129.84 L262.50,131.84 L263.00,137.79 L263.50,164.74 L264.00,164.49 L264.50,173.36 L265.00,171.47 L265.50,168.52 L266.00,164.36 L266.50,163.32 L267.00,163.86 L267.50,172.59 L268.00,165.98 L268.50,187.95 L269.00,172.19 L269.50,186.87 L270.00,182.37 L270.50,189.45 L271.00,191.58 L271.50,205.89 L272.00,199.97 L272.50,205.89 L273.00,208.00 L273.50,208.48 L274.00,205.68 L274.50,205.95 L275.00,202.27 L275.50,200.77 L276.00,198.86 L276.50,198.72 L277.00,199.33 L277.50,204.63 L278.00,201.93 L278.50,206.77 L279.00,204.97 L279.50,210.09 L280.00,208.38 L280.50,213.62 L281.00,211.68 L281.50,213.71 L282.00,214.20 L282.50,215.92 L283.00,215.62 L283.50,217.16 L284.00,217.18 L284.50,218.34 L285.00,218.16 L285.50,218.49 L286.00,218.43 L286.50,218.91 L287.00,218.69 L287.50,219.00 L288.00,218.98 L288.50,219.38 L289.00,219.24 L289.50,219.46 L290.00,219.32 L290.50,219.39 L291.00,219.37 L291.50,219.51 L292.00,219.41 L292.50,219.58 L293.00,219.46 L293.50,219.49 L294.00,219.51 L294.50,219.61 L295.00,219.55 L295.50,219.64 L296.00,219.59 L296.00,220.00 Z" fill="#6b6b6b" stroke="#000" stroke-width="0.95" stroke-linejoin="miter" filter="url(#bl)"/>
<line x1="204.00" y1="125.00" x2="299.60" y2="125.00" stroke="#9a9a9a" stroke-width="1.2"/>
<line x1="299.60" y1="125.00" x2="299.60" y2="220.00" stroke="#9a9a9a" stroke-width="1.2"/>
<line x1="204.00" y1="125.00" x2="204.00" y2="220.00" stroke="#8c8c8c" stroke-width="1.2"/>
<line x1="204.00" y1="220.00" x2="299.60" y2="220.00" stroke="#777" stroke-width="1.2"/>
<line x1="202.80" y1="215.76" x2="204.00" y2="215.76" stroke="#999" stroke-width="0.8"/>
<line x1="202.80" y1="211.52" x2="204.00" y2="211.52" stroke="#999" stroke-width="0.8"/>
<line x1="202.80" y1="207.28" x2="204.00" y2="207.28" stroke="#999" stroke-width="0.8"/>
<line x1="202.80" y1="203.04" x2="204.00" y2="203.04" stroke="#999" stroke-width="0.8"/>
<line x1="202.80" y1="198.80" x2="204.00" y2="198.80" stroke="#999" stroke-width="0.8"/>
<line x1="202.80" y1="194.56" x2="204.00" y2="194.56" stroke="#999" stroke-width="0.8"/>
<line x1="202.80" y1="190.32" x2="204.00" y2="190.32" stroke="#999" stroke-width="0.8"/>
<line x1="202.80" y1="186.08" x2="204.00" y2="186.08" stroke="#999" stroke-width="0.8"/>
<line x1="202.80" y1="181.84" x2="204.00" y2="181.84" stroke="#999" stroke-width="0.8"/>
<line x1="202.80" y1="177.60" x2="204.00" y2="177.60" stroke="#999" stroke-width="0.8"/>
<line x1="202.80" y1="173.36" x2="204.00" y2="173.36" stroke="#999" stroke-width="0.8"/>
<line x1="202.80" y1="169.12" x2="204.00" y2="169.12" stroke="#999" stroke-width="0.8"/>
<line x1="202.80" y1="164.88" x2="204.00" y2="164.88" stroke="#999" stroke-width="0.8"/>
<line x1="202.80" y1="160.64" x2="204.00" y2="160.64" stroke="#999" stroke-width="0.8"/>
<line x1="202.80" y1="156.40" x2="204.00" y2="156.40" stroke="#999" stroke-width="0.8"/>
<line x1="202.80" y1="152.16" x2="204.00" y2="152.16" stroke="#999" stroke-width="0.8"/>
<line x1="202.80" y1="147.92" x2="204.00" y2="147.92" stroke="#999" stroke-width="0.8"/>
<line x1="202.80" y1="143.68" x2="204.00" y2="143.68" stroke="#999" stroke-width="0.8"/>
<line x1="202.80" y1="139.44" x2="204.00" y2="139.44" stroke="#999" stroke-width="0.8"/>
<line x1="202.80" y1="135.20" x2="204.00" y2="135.20" stroke="#999" stroke-width="0.8"/>
<line x1="201.80" y1="220.00" x2="204.00" y2="220.00" stroke="#555" stroke-width="1"/>
<text x="201.00" y="222.60" font-size="7.8" font-weight="bold" text-anchor="end">0</text>
<line x1="201.80" y1="198.80" x2="204.00" y2="198.80" stroke="#555" stroke-width="1"/>
<text x="201.00" y="201.40" font-size="7.8" font-weight="bold" text-anchor="end">10</text>
<line x1="201.80" y1="177.60" x2="204.00" y2="177.60" stroke="#555" stroke-width="1"/>
<text x="201.00" y="180.20" font-size="7.8" font-weight="bold" text-anchor="end">20</text>
<line x1="201.80" y1="156.40" x2="204.00" y2="156.40" stroke="#555" stroke-width="1"/>
<text x="201.00" y="159.00" font-size="7.8" font-weight="bold" text-anchor="end">30</text>
<line x1="201.80" y1="135.20" x2="204.00" y2="135.20" stroke="#555" stroke-width="1"/>
<text x="201.00" y="137.80" font-size="7.8" font-weight="bold" text-anchor="end">40</text>
<line x1="227.50" y1="220.00" x2="227.50" y2="222.00" stroke="#666" stroke-width="0.8"/>
<text x="222.50" y="229.70" font-size="8" font-weight="bold">10<tspan font-size="4.8" dy="-3.0">0</tspan></text>
<line x1="251.50" y1="220.00" x2="251.50" y2="222.00" stroke="#666" stroke-width="0.8"/>
<text x="246.50" y="229.70" font-size="8" font-weight="bold">10<tspan font-size="4.8" dy="-3.0">1</tspan></text>
<line x1="275.50" y1="220.00" x2="275.50" y2="222.00" stroke="#666" stroke-width="0.8"/>
<text x="270.50" y="229.70" font-size="8" font-weight="bold">10<tspan font-size="4.8" dy="-3.0">2</tspan></text>
<line x1="299.50" y1="220.00" x2="299.50" y2="222.00" stroke="#666" stroke-width="0.8"/>
<text x="294.50" y="229.70" font-size="8" font-weight="bold">10<tspan font-size="4.8" dy="-3.0">3</tspan></text>
<line x1="285.50" y1="130.90" x2="294.30" y2="130.90" stroke="#222" stroke-width="1"/>
<line x1="285.50" y1="129.40" x2="285.50" y2="132.40" stroke="#000" stroke-width="1.1"/>
<line x1="294.30" y1="129.40" x2="294.30" y2="132.40" stroke="#000" stroke-width="1.1"/>
<text x="207.70" y="138.80" font-size="12">2.1</text>
<text x="207.70" y="152.50" font-size="12">±0.2</text>
<path d="M360.00,220.00 L360.00,219.18 L360.50,219.41 L361.00,219.19 L361.50,219.23 L362.00,219.19 L362.50,219.38 L363.00,219.18 L363.50,219.26 L364.00,219.18 L364.50,219.27 L365.00,219.18 L365.50,219.24 L366.00,219.18 L366.50,219.26 L367.00,219.18 L367.50,219.42 L368.00,219.20 L368.50,219.42 L369.00,219.19 L369.50,219.21 L370.00,219.18 L370.50,219.27 L371.00,219.19 L371.50,219.24 L372.00,219.19 L372.50,219.49 L373.00,219.19 L373.50,219.35 L374.00,219.18 L374.50,219.47 L375.00,219.19 L375.50,219.32 L376.00,219.19 L376.50,219.24 L377.00,219.05 L377.50,218.49 L378.00,217.74 L378.50,217.24 L379.00,216.45 L379.50,216.26 L380.00,215.55 L380.50,215.52 L381.00,214.95 L381.50,215.10 L382.00,213.77 L382.50,213.16 L383.00,212.44 L383.50,212.51 L384.00,212.71 L384.50,213.56 L385.00,212.10 L385.50,210.91 L386.00,209.69 L386.50,209.52 L387.00,209.75 L387.50,210.84 L388.00,210.18 L388.50,210.90 L389.00,208.97 L389.50,212.90 L390.00,207.45 L390.50,210.37 L391.00,204.63 L391.50,203.10 L392.00,204.29 L392.50,209.68 L393.00,206.46 L393.50,207.93 L394.00,205.34 L394.50,205.48 L395.00,203.85 L395.50,205.39 L396.00,202.34 L396.50,201.79 L397.00,200.79 L397.50,200.66 L398.00,200.19 L398.50,201.38 L399.00,203.50 L399.50,205.10 L400.00,203.40 L400.50,204.17 L401.00,201.60 L401.50,202.52 L402.00,196.61 L402.50,197.30 L403.00,194.04 L403.50,193.56 L404.00,193.57 L404.50,194.76 L405.00,195.73 L405.50,203.05 L406.00,200.24 L406.50,209.99 L407.00,206.20 L407.50,208.99 L408.00,207.70 L408.50,210.09 L409.00,208.33 L409.50,206.30 L410.00,202.87 L410.50,199.56 L411.00,195.90 L411.50,192.30 L412.00,195.12 L412.50,202.71 L413.00,196.41 L413.50,193.80 L414.00,197.17 L414.50,204.49 L415.00,203.47 L415.50,209.49 L416.00,207.29 L416.50,212.79 L417.00,210.23 L417.50,213.95 L418.00,213.13 L418.50,214.79 L419.00,215.13 L419.50,216.22 L420.00,216.84 L420.50,216.98 L421.00,216.76 L421.50,216.84 L422.00,216.64 L422.50,216.74 L423.00,217.09 L423.50,217.77 L424.00,217.74 L424.50,218.47 L425.00,218.21 L425.50,218.38 L426.00,218.34 L426.50,218.98 L427.00,218.49 L427.50,218.89 L428.00,218.64 L428.50,219.18 L429.00,218.76 L429.50,219.11 L430.00,218.86 L430.50,219.11 L431.00,218.93 L431.50,219.35 L432.00,219.02 L432.50,219.14 L433.00,219.12 L433.50,219.47 L433.80,220.00 Z" fill="#6b6b6b" stroke="#000" stroke-width="0.95" stroke-linejoin="miter" filter="url(#bl)"/>
<line x1="339.80" y1="125.00" x2="435.40" y2="125.00" stroke="#9a9a9a" stroke-width="1.2"/>
<line x1="435.40" y1="125.00" x2="435.40" y2="220.00" stroke="#9a9a9a" stroke-width="1.2"/>
<line x1="339.80" y1="125.00" x2="339.80" y2="220.00" stroke="#8c8c8c" stroke-width="1.2"/>
<line x1="339.80" y1="220.00" x2="435.40" y2="220.00" stroke="#777" stroke-width="1.2"/>
<line x1="338.60" y1="215.76" x2="339.80" y2="215.76" stroke="#999" stroke-width="0.8"/>
<line x1="338.60" y1="211.52" x2="339.80" y2="211.52" stroke="#999" stroke-width="0.8"/>
<line x1="338.60" y1="207.28" x2="339.80" y2="207.28" stroke="#999" stroke-width="0.8"/>
<line x1="338.60" y1="203.04" x2="339.80" y2="203.04" stroke="#999" stroke-width="0.8"/>
<line x1="338.60" y1="198.80" x2="339.80" y2="198.80" stroke="#999" stroke-width="0.8"/>
<line x1="338.60" y1="194.56" x2="339.80" y2="194.56" stroke="#999" stroke-width="0.8"/>
<line x1="338.60" y1="190.32" x2="339.80" y2="190.32" stroke="#999" stroke-width="0.8"/>
<line x1="338.60" y1="186.08" x2="339.80" y2="186.08" stroke="#999" stroke-width="0.8"/>
<line x1="338.60" y1="181.84" x2="339.80" y2="181.84" stroke="#999" stroke-width="0.8"/>
<line x1="338.60" y1="177.60" x2="339.80" y2="177.60" stroke="#999" stroke-width="0.8"/>
<line x1="338.60" y1="173.36" x2="339.80" y2="173.36" stroke="#999" stroke-width="0.8"/>
<line x1="338.60" y1="169.12" x2="339.80" y2="169.12" stroke="#999" stroke-width="0.8"/>
<line x1="338.60" y1="164.88" x2="339.80" y2="164.88" stroke="#999" stroke-width="0.8"/>
<line x1="338.60" y1="160.64" x2="339.80" y2="160.64" stroke="#999" stroke-width="0.8"/>
<line x1="338.60" y1="156.40" x2="339.80" y2="156.40" stroke="#999" stroke-width="0.8"/>
<line x1="338.60" y1="152.16" x2="339.80" y2="152.16" stroke="#999" stroke-width="0.8"/>
<line x1="338.60" y1="147.92" x2="339.80" y2="147.92" stroke="#999" stroke-width="0.8"/>
<line x1="338.60" y1="143.68" x2="339.80" y2="143.68" stroke="#999" stroke-width="0.8"/>
<line x1="338.60" y1="139.44" x2="339.80" y2="139.44" stroke="#999" stroke-width="0.8"/>
<line x1="338.60" y1="135.20" x2="339.80" y2="135.20" stroke="#999" stroke-width="0.8"/>
<line x1="337.60" y1="220.00" x2="339.80" y2="220.00" stroke="#555" stroke-width="1"/>
<text x="336.80" y="222.60" font-size="7.8" font-weight="bold" text-anchor="end">0</text>
<line x1="337.60" y1="198.80" x2="339.80" y2="198.80" stroke="#555" stroke-width="1"/>
<text x="336.80" y="201.40" font-size="7.8" font-weight="bold" text-anchor="end">10</text>
<line x1="337.60" y1="177.60" x2="339.80" y2="177.60" stroke="#555" stroke-width="1"/>
<text x="336.80" y="180.20" font-size="7.8" font-weight="bold" text-anchor="end">20</text>
<line x1="337.60" y1="156.40" x2="339.80" y2="156.40" stroke="#555" stroke-width="1"/>
<text x="336.80" y="159.00" font-size="7.8" font-weight="bold" text-anchor="end">30</text>
<line x1="337.60" y1="135.20" x2="339.80" y2="135.20" stroke="#555" stroke-width="1"/>
<text x="336.80" y="137.80" font-size="7.8" font-weight="bold" text-anchor="end">40</text>
<line x1="363.30" y1="220.00" x2="363.30" y2="222.00" stroke="#666" stroke-width="0.8"/>
<text x="358.30" y="229.70" font-size="8" font-weight="bold">10<tspan font-size="4.8" dy="-3.0">0</tspan></text>
<line x1="387.30" y1="220.00" x2="387.30" y2="222.00" stroke="#666" stroke-width="0.8"/>
<text x="382.30" y="229.70" font-size="8" font-weight="bold">10<tspan font-size="4.8" dy="-3.0">1</tspan></text>
<line x1="411.30" y1="220.00" x2="411.30" y2="222.00" stroke="#666" stroke-width="0.8"/>
<text x="406.30" y="229.70" font-size="8" font-weight="bold">10<tspan font-size="4.8" dy="-3.0">2</tspan></text>
<line x1="435.30" y1="220.00" x2="435.30" y2="222.00" stroke="#666" stroke-width="0.8"/>
<text x="430.30" y="229.70" font-size="8" font-weight="bold">10<tspan font-size="4.8" dy="-3.0">3</tspan></text>
<line x1="421.30" y1="130.90" x2="430.10" y2="130.90" stroke="#222" stroke-width="1"/>
<line x1="421.30" y1="129.40" x2="421.30" y2="132.40" stroke="#000" stroke-width="1.1"/>
<line x1="430.10" y1="129.40" x2="430.10" y2="132.40" stroke="#000" stroke-width="1.1"/>
<text x="345.80" y="138.80" font-size="12">0.9</text>
<text x="345.80" y="152.50" font-size="12">±0.1</text>
<text transform="translate(40.70,64.90) rotate(-90)" x="0" y="0" font-size="13" text-anchor="middle" textLength="64" lengthAdjust="spacingAndGlyphs"><tspan font-style="italic">H6pdh</tspan> +/+</text>
<text transform="translate(40.70,170.60) rotate(-90)" x="0" y="0" font-size="13" text-anchor="middle" textLength="56" lengthAdjust="spacingAndGlyphs"><tspan font-style="italic">H6pdh</tspan> -/-</text>
<line x1="19.00" y1="205.30" x2="19.00" y2="232.65" stroke="#111" stroke-width="1.1"/>
<line x1="18.45" y1="232.10" x2="48.00" y2="232.10" stroke="#111" stroke-width="1.1"/>
<path d="M19,201.3 L16.3,206.5 L21.7,206.5 Z" fill="#111"/>
<path d="M52,232.1 L46.8,229.6 L46.8,234.6 Z" fill="#111"/>
<text transform="translate(11.5,211) rotate(-90)" font-size="13" text-anchor="middle">n</text>
<text x="19.50" y="249.30" font-size="13.4">CFSE</text>
<line x1="66.50" y1="278.10" x2="66.50" y2="368.80" stroke="#6a6a6a" stroke-width="1.1"/>
<line x1="64.50" y1="368.80" x2="66.50" y2="368.80" stroke="#555" stroke-width="1"/>
<text x="64.70" y="372.60" font-size="10.5" text-anchor="end">0</text>
<line x1="64.50" y1="347.15" x2="66.50" y2="347.15" stroke="#555" stroke-width="1"/>
<text x="64.70" y="350.95" font-size="10.5" text-anchor="end">25</text>
<line x1="64.50" y1="325.50" x2="66.50" y2="325.50" stroke="#555" stroke-width="1"/>
<text x="64.70" y="329.30" font-size="10.5" text-anchor="end">50</text>
<line x1="64.50" y1="303.85" x2="66.50" y2="303.85" stroke="#555" stroke-width="1"/>
<text x="64.70" y="307.65" font-size="10.5" text-anchor="end">75</text>
<line x1="64.50" y1="282.20" x2="66.50" y2="282.20" stroke="#555" stroke-width="1"/>
<text x="64.70" y="286.00" font-size="10.5" text-anchor="end">100</text>
<line x1="66.50" y1="368.80" x2="156.80" y2="368.80" stroke="#6a6a6a" stroke-width="1.1"/>
<rect x="70.20" y="282.20" width="7.30" height="86.60" fill="#000"/>
<line x1="73.85" y1="368.80" x2="73.85" y2="371.00" stroke="#666" stroke-width="0.8"/>
<rect x="85.95" y="282.65" width="6.40" height="86.15" fill="#cbcbcb" stroke="#8f8f8f" stroke-width="0.9"/>
<line x1="89.15" y1="368.80" x2="89.15" y2="371.00" stroke="#666" stroke-width="0.8"/>
<rect x="100.50" y="297.70" width="7.30" height="71.10" fill="#000"/>
<line x1="104.15" y1="283.67" x2="104.15" y2="297.70" stroke="#222" stroke-width="1"/>
<line x1="101.95" y1="283.67" x2="106.35" y2="283.67" stroke="#222" stroke-width="1"/>
<line x1="104.15" y1="368.80" x2="104.15" y2="371.00" stroke="#666" stroke-width="0.8"/>
<line x1="119.35" y1="291.03" x2="119.35" y2="304.54" stroke="#555" stroke-width="1"/>
<line x1="117.15" y1="291.03" x2="121.55" y2="291.03" stroke="#555" stroke-width="1"/>
<rect x="115.95" y="304.99" width="6.80" height="63.81" fill="#cbcbcb" stroke="#8f8f8f" stroke-width="0.9"/>
<line x1="119.35" y1="368.80" x2="119.35" y2="371.00" stroke="#666" stroke-width="0.8"/>
<rect x="130.80" y="347.84" width="7.50" height="20.96" fill="#000"/>
<line x1="134.55" y1="333.03" x2="134.55" y2="347.84" stroke="#222" stroke-width="1"/>
<line x1="132.35" y1="333.03" x2="136.75" y2="333.03" stroke="#222" stroke-width="1"/>
<line x1="134.55" y1="368.80" x2="134.55" y2="371.00" stroke="#666" stroke-width="0.8"/>
<line x1="149.50" y1="304.72" x2="149.50" y2="322.12" stroke="#555" stroke-width="1"/>
<line x1="147.30" y1="304.72" x2="151.70" y2="304.72" stroke="#555" stroke-width="1"/>
<rect x="146.15" y="322.57" width="6.70" height="46.23" fill="#cbcbcb" stroke="#8f8f8f" stroke-width="0.9"/>
<line x1="149.50" y1="368.80" x2="149.50" y2="371.00" stroke="#666" stroke-width="0.8"/>
<line x1="69.80" y1="376.50" x2="85.40" y2="376.50" stroke="#333" stroke-width="0.9"/>
<text x="75.70" y="387.60" font-size="10.8">1:2</text>
<line x1="100.10" y1="376.50" x2="115.70" y2="376.50" stroke="#333" stroke-width="0.9"/>
<text x="106.00" y="387.60" font-size="10.8">1:4</text>
<line x1="130.40" y1="376.50" x2="146.00" y2="376.50" stroke="#333" stroke-width="0.9"/>
<text x="136.30" y="387.60" font-size="10.8">1:8</text>
<line x1="205.20" y1="278.10" x2="205.20" y2="368.80" stroke="#6a6a6a" stroke-width="1.1"/>
<line x1="203.20" y1="368.80" x2="205.20" y2="368.80" stroke="#555" stroke-width="1"/>
<text x="203.40" y="372.60" font-size="10.5" text-anchor="end">0</text>
<line x1="203.20" y1="347.15" x2="205.20" y2="347.15" stroke="#555" stroke-width="1"/>
<text x="203.40" y="350.95" font-size="10.5" text-anchor="end">25</text>
<line x1="203.20" y1="325.50" x2="205.20" y2="325.50" stroke="#555" stroke-width="1"/>
<text x="203.40" y="329.30" font-size="10.5" text-anchor="end">50</text>
<line x1="203.20" y1="303.85" x2="205.20" y2="303.85" stroke="#555" stroke-width="1"/>
<text x="203.40" y="307.65" font-size="10.5" text-anchor="end">75</text>
<line x1="203.20" y1="282.20" x2="205.20" y2="282.20" stroke="#555" stroke-width="1"/>
<text x="203.40" y="286.00" font-size="10.5" text-anchor="end">100</text>
<line x1="205.20" y1="368.80" x2="295.40" y2="368.80" stroke="#6a6a6a" stroke-width="1.1"/>
<rect x="209.20" y="291.21" width="7.10" height="77.59" fill="#000"/>
<line x1="212.75" y1="288.52" x2="212.75" y2="291.21" stroke="#222" stroke-width="1"/>
<line x1="210.55" y1="288.52" x2="214.95" y2="288.52" stroke="#222" stroke-width="1"/>
<line x1="212.75" y1="368.80" x2="212.75" y2="371.00" stroke="#666" stroke-width="0.8"/>
<line x1="227.60" y1="281.42" x2="227.60" y2="283.41" stroke="#555" stroke-width="1"/>
<line x1="225.40" y1="281.42" x2="229.80" y2="281.42" stroke="#555" stroke-width="1"/>
<rect x="224.45" y="283.86" width="6.30" height="84.94" fill="#cbcbcb" stroke="#8f8f8f" stroke-width="0.9"/>
<line x1="227.60" y1="368.80" x2="227.60" y2="371.00" stroke="#666" stroke-width="0.8"/>
<rect x="239.40" y="323.85" width="7.10" height="44.95" fill="#000"/>
<line x1="242.95" y1="313.46" x2="242.95" y2="323.85" stroke="#222" stroke-width="1"/>
<line x1="240.75" y1="313.46" x2="245.15" y2="313.46" stroke="#222" stroke-width="1"/>
<line x1="242.95" y1="368.80" x2="242.95" y2="371.00" stroke="#666" stroke-width="0.8"/>
<line x1="257.85" y1="286.96" x2="257.85" y2="298.22" stroke="#555" stroke-width="1"/>
<line x1="255.65" y1="286.96" x2="260.05" y2="286.96" stroke="#555" stroke-width="1"/>
<rect x="254.65" y="298.67" width="6.40" height="70.13" fill="#cbcbcb" stroke="#8f8f8f" stroke-width="0.9"/>
<line x1="257.85" y1="368.80" x2="257.85" y2="371.00" stroke="#666" stroke-width="0.8"/>
<rect x="269.60" y="348.88" width="7.30" height="19.92" fill="#000"/>
<line x1="273.25" y1="338.92" x2="273.25" y2="348.88" stroke="#222" stroke-width="1"/>
<line x1="271.05" y1="338.92" x2="275.45" y2="338.92" stroke="#222" stroke-width="1"/>
<line x1="273.25" y1="368.80" x2="273.25" y2="371.00" stroke="#666" stroke-width="0.8"/>
<line x1="288.25" y1="311.99" x2="288.25" y2="325.76" stroke="#555" stroke-width="1"/>
<line x1="286.05" y1="311.99" x2="290.45" y2="311.99" stroke="#555" stroke-width="1"/>
<rect x="285.05" y="326.21" width="6.40" height="42.59" fill="#cbcbcb" stroke="#8f8f8f" stroke-width="0.9"/>
<line x1="288.25" y1="368.80" x2="288.25" y2="371.00" stroke="#666" stroke-width="0.8"/>
<line x1="208.80" y1="376.50" x2="224.40" y2="376.50" stroke="#333" stroke-width="0.9"/>
<text x="214.70" y="387.60" font-size="10.8">1:2</text>
<line x1="239.00" y1="376.50" x2="254.60" y2="376.50" stroke="#333" stroke-width="0.9"/>
<text x="244.90" y="387.60" font-size="10.8">1:4</text>
<line x1="269.20" y1="376.50" x2="284.80" y2="376.50" stroke="#333" stroke-width="0.9"/>
<text x="275.10" y="387.60" font-size="10.8">1:8</text>
<line x1="341.10" y1="278.10" x2="341.10" y2="368.80" stroke="#6a6a6a" stroke-width="1.1"/>
<line x1="339.10" y1="368.80" x2="341.10" y2="368.80" stroke="#555" stroke-width="1"/>
<text x="339.30" y="372.60" font-size="10.5" text-anchor="end">0</text>
<line x1="339.10" y1="347.15" x2="341.10" y2="347.15" stroke="#555" stroke-width="1"/>
<text x="339.30" y="350.95" font-size="10.5" text-anchor="end">25</text>
<line x1="339.10" y1="325.50" x2="341.10" y2="325.50" stroke="#555" stroke-width="1"/>
<text x="339.30" y="329.30" font-size="10.5" text-anchor="end">50</text>
<line x1="339.10" y1="303.85" x2="341.10" y2="303.85" stroke="#555" stroke-width="1"/>
<text x="339.30" y="307.65" font-size="10.5" text-anchor="end">75</text>
<line x1="339.10" y1="282.20" x2="341.10" y2="282.20" stroke="#555" stroke-width="1"/>
<text x="339.30" y="286.00" font-size="10.5" text-anchor="end">100</text>
<line x1="341.10" y1="368.80" x2="431.80" y2="368.80" stroke="#6a6a6a" stroke-width="1.1"/>
<rect x="345.00" y="326.37" width="7.30" height="42.43" fill="#000"/>
<line x1="348.65" y1="315.97" x2="348.65" y2="326.37" stroke="#222" stroke-width="1"/>
<line x1="346.45" y1="315.97" x2="350.85" y2="315.97" stroke="#222" stroke-width="1"/>
<line x1="348.65" y1="368.80" x2="348.65" y2="371.00" stroke="#666" stroke-width="0.8"/>
<line x1="363.65" y1="309.13" x2="363.65" y2="324.11" stroke="#555" stroke-width="1"/>
<line x1="361.45" y1="309.13" x2="365.85" y2="309.13" stroke="#555" stroke-width="1"/>
<rect x="360.45" y="324.56" width="6.40" height="44.24" fill="#cbcbcb" stroke="#8f8f8f" stroke-width="0.9"/>
<line x1="363.65" y1="368.80" x2="363.65" y2="371.00" stroke="#666" stroke-width="0.8"/>
<rect x="375.40" y="333.73" width="7.30" height="35.07" fill="#000"/>
<line x1="379.05" y1="329.31" x2="379.05" y2="333.73" stroke="#222" stroke-width="1"/>
<line x1="376.85" y1="329.31" x2="381.25" y2="329.31" stroke="#222" stroke-width="1"/>
<line x1="379.05" y1="368.80" x2="379.05" y2="371.00" stroke="#666" stroke-width="0.8"/>
<line x1="394.15" y1="328.36" x2="394.15" y2="332.86" stroke="#555" stroke-width="1"/>
<line x1="391.95" y1="328.36" x2="396.35" y2="328.36" stroke="#555" stroke-width="1"/>
<rect x="390.85" y="333.31" width="6.60" height="35.49" fill="#cbcbcb" stroke="#8f8f8f" stroke-width="0.9"/>
<line x1="394.15" y1="368.80" x2="394.15" y2="371.00" stroke="#666" stroke-width="0.8"/>
<rect x="405.80" y="341.78" width="7.50" height="27.02" fill="#000"/>
<line x1="409.55" y1="330.44" x2="409.55" y2="341.78" stroke="#222" stroke-width="1"/>
<line x1="407.35" y1="330.44" x2="411.75" y2="330.44" stroke="#222" stroke-width="1"/>
<line x1="409.55" y1="368.80" x2="409.55" y2="371.00" stroke="#666" stroke-width="0.8"/>
<line x1="424.65" y1="332.69" x2="424.65" y2="337.54" stroke="#555" stroke-width="1"/>
<line x1="422.45" y1="332.69" x2="426.85" y2="332.69" stroke="#555" stroke-width="1"/>
<rect x="421.45" y="337.99" width="6.40" height="30.81" fill="#cbcbcb" stroke="#8f8f8f" stroke-width="0.9"/>
<line x1="424.65" y1="368.80" x2="424.65" y2="371.00" stroke="#666" stroke-width="0.8"/>
<line x1="344.60" y1="376.50" x2="360.20" y2="376.50" stroke="#333" stroke-width="0.9"/>
<text x="350.50" y="387.60" font-size="10.8">1:2</text>
<line x1="375.00" y1="376.50" x2="390.60" y2="376.50" stroke="#333" stroke-width="0.9"/>
<text x="380.90" y="387.60" font-size="10.8">1:4</text>
<line x1="405.40" y1="376.50" x2="421.00" y2="376.50" stroke="#333" stroke-width="0.9"/>
<text x="411.30" y="387.60" font-size="10.8">1:8</text>
<text x="206.30" y="271.00" font-size="10.6">p=0.01</text>
<line x1="209.00" y1="275.90" x2="231.70" y2="275.90" stroke="#666" stroke-width="1"/>
<text x="235.80" y="281.30" font-size="10.6">p=0.04</text>
<line x1="239.40" y1="283.40" x2="261.90" y2="283.40" stroke="#666" stroke-width="1"/>
<text transform="translate(41.30,323.60) rotate(-90)" x="0" y="0" font-size="10.8" text-anchor="middle" textLength="105" lengthAdjust="spacingAndGlyphs">cell divisions (% max)</text>
<rect x="445.30" y="373.80" width="12.60" height="8.40" fill="#000"/>
<rect x="445.80" y="389.30" width="11.80" height="7.60" fill="#d0d0d0" stroke="#8c8c8c" stroke-width="0.9"/>
<text x="463.6" y="380.8" font-size="11.5" font-style="italic" textLength="55" lengthAdjust="spacingAndGlyphs">H6pdh +/+</text>
<text x="463.4" y="395.7" font-size="11.5" font-style="italic" textLength="49.5" lengthAdjust="spacingAndGlyphs">H6pdh -/-</text>
<text x="1.80" y="428.50" font-size="16.2" font-weight="bold" textLength="13.2" lengthAdjust="spacingAndGlyphs">B</text>
<text x="103.60" y="427.90" font-size="14">+ 0</text>
<text x="228.40" y="428.20" font-size="14">+ CpG</text>
<path d="M88.00,533.00 L90.00,532.20 L94.30,527.70 L95.00,522.60 L96.50,524.80 L99.30,519.10 L102.20,506.20 L103.60,503.30 L105.80,493.30 L107.20,483.30 L108.60,481.10 L110.10,483.30 L112.20,471.80 L113.70,450.30 L114.40,442.40 L115.80,450.30 L117.20,442.40 L117.60,454.60 L117.60,471.80 L118.60,479.00 L119.60,490.40 L120.80,500.40 L122.80,510.50 L124.80,519.10 L127.20,526.20 L130.40,531.20 L133.00,533.00 L133.00,533.20 L88.00,533.20 Z" fill="#a2a2a2" stroke="#7a7a7a" stroke-width="0.7"/>
<line x1="67.80" y1="436.40" x2="164.60" y2="436.40" stroke="#9a9a9a" stroke-width="1.2"/>
<line x1="164.60" y1="436.40" x2="164.60" y2="533.20" stroke="#9a9a9a" stroke-width="1.2"/>
<line x1="67.80" y1="436.40" x2="67.80" y2="533.20" stroke="#999" stroke-width="1.2"/>
<line x1="67.80" y1="533.20" x2="164.60" y2="533.20" stroke="#888" stroke-width="1.2"/>
<line x1="66.60" y1="529.54" x2="67.80" y2="529.54" stroke="#aaa" stroke-width="0.8"/>
<line x1="66.60" y1="525.88" x2="67.80" y2="525.88" stroke="#aaa" stroke-width="0.8"/>
<line x1="66.60" y1="522.22" x2="67.80" y2="522.22" stroke="#aaa" stroke-width="0.8"/>
<line x1="66.60" y1="518.56" x2="67.80" y2="518.56" stroke="#aaa" stroke-width="0.8"/>
<line x1="66.60" y1="514.90" x2="67.80" y2="514.90" stroke="#aaa" stroke-width="0.8"/>
<line x1="66.60" y1="511.24" x2="67.80" y2="511.24" stroke="#aaa" stroke-width="0.8"/>
<line x1="66.60" y1="507.58" x2="67.80" y2="507.58" stroke="#aaa" stroke-width="0.8"/>
<line x1="66.60" y1="503.92" x2="67.80" y2="503.92" stroke="#aaa" stroke-width="0.8"/>
<line x1="66.60" y1="500.26" x2="67.80" y2="500.26" stroke="#aaa" stroke-width="0.8"/>
<line x1="66.60" y1="496.60" x2="67.80" y2="496.60" stroke="#aaa" stroke-width="0.8"/>
<line x1="66.60" y1="492.94" x2="67.80" y2="492.94" stroke="#aaa" stroke-width="0.8"/>
<line x1="66.60" y1="489.28" x2="67.80" y2="489.28" stroke="#aaa" stroke-width="0.8"/>
<line x1="66.60" y1="485.62" x2="67.80" y2="485.62" stroke="#aaa" stroke-width="0.8"/>
<line x1="66.60" y1="481.96" x2="67.80" y2="481.96" stroke="#aaa" stroke-width="0.8"/>
<line x1="66.60" y1="478.30" x2="67.80" y2="478.30" stroke="#aaa" stroke-width="0.8"/>
<line x1="66.60" y1="474.64" x2="67.80" y2="474.64" stroke="#aaa" stroke-width="0.8"/>
<line x1="66.60" y1="470.98" x2="67.80" y2="470.98" stroke="#aaa" stroke-width="0.8"/>
<line x1="66.60" y1="467.32" x2="67.80" y2="467.32" stroke="#aaa" stroke-width="0.8"/>
<line x1="66.60" y1="463.66" x2="67.80" y2="463.66" stroke="#aaa" stroke-width="0.8"/>
<line x1="66.60" y1="460.00" x2="67.80" y2="460.00" stroke="#aaa" stroke-width="0.8"/>
<line x1="66.60" y1="456.34" x2="67.80" y2="456.34" stroke="#aaa" stroke-width="0.8"/>
<line x1="66.60" y1="452.68" x2="67.80" y2="452.68" stroke="#aaa" stroke-width="0.8"/>
<line x1="66.60" y1="449.02" x2="67.80" y2="449.02" stroke="#aaa" stroke-width="0.8"/>
<line x1="66.60" y1="445.36" x2="67.80" y2="445.36" stroke="#aaa" stroke-width="0.8"/>
<line x1="64.80" y1="533.20" x2="67.80" y2="533.20" stroke="#666" stroke-width="1"/>
<text x="64.10" y="536.80" font-size="9.2" text-anchor="end">0</text>
<line x1="64.80" y1="514.85" x2="67.80" y2="514.85" stroke="#666" stroke-width="1"/>
<text x="64.10" y="518.45" font-size="9.2" text-anchor="end">20</text>
<line x1="64.80" y1="496.50" x2="67.80" y2="496.50" stroke="#666" stroke-width="1"/>
<text x="64.10" y="500.10" font-size="9.2" text-anchor="end">40</text>
<line x1="64.80" y1="478.15" x2="67.80" y2="478.15" stroke="#666" stroke-width="1"/>
<text x="64.10" y="481.75" font-size="9.2" text-anchor="end">60</text>
<line x1="64.80" y1="459.80" x2="67.80" y2="459.80" stroke="#666" stroke-width="1"/>
<text x="64.10" y="463.40" font-size="9.2" text-anchor="end">80</text>
<line x1="64.80" y1="441.45" x2="67.80" y2="441.45" stroke="#666" stroke-width="1"/>
<text x="64.10" y="445.05" font-size="9.2" text-anchor="end">100</text>
<line x1="77.70" y1="533.20" x2="77.70" y2="535.20" stroke="#666" stroke-width="0.8"/>
<text x="77.90" y="548.20" font-size="9" text-anchor="middle">0</text>
<line x1="85.10" y1="533.20" x2="85.10" y2="535.20" stroke="#666" stroke-width="0.8"/>
<text x="80.40" y="548.20" font-size="9">10<tspan font-size="6.5" dy="-3.6">2</tspan></text>
<line x1="109.50" y1="533.20" x2="109.50" y2="535.20" stroke="#666" stroke-width="0.8"/>
<text x="104.80" y="548.20" font-size="9">10<tspan font-size="6.5" dy="-3.6">3</tspan></text>
<line x1="131.70" y1="533.20" x2="131.70" y2="535.20" stroke="#666" stroke-width="0.8"/>
<text x="127.00" y="548.20" font-size="9">10<tspan font-size="6.5" dy="-3.6">4</tspan></text>
<line x1="153.80" y1="533.20" x2="153.80" y2="535.20" stroke="#666" stroke-width="0.8"/>
<text x="149.10" y="548.20" font-size="9">10<tspan font-size="6.5" dy="-3.6">5</tspan></text>
<path d="M68.00,533.00 L80.00,532.60 L85.70,531.90 L90.00,529.80 L93.60,526.20 L96.50,521.90 L99.30,515.50 L101.50,509.00 L102.90,502.60 L105.10,500.40 L106.50,494.70 L107.90,489.00 L109.40,483.30 L110.80,474.70 L111.80,463.20 L112.70,450.30 L114.10,445.30 L115.50,447.50 L116.90,443.90 L117.90,444.60 L119.00,457.50 L120.10,473.20 L121.50,484.70 L123.00,493.30 L124.70,501.90 L126.50,511.90 L128.40,519.10 L130.10,525.50 L132.30,529.80 L135.10,531.90 L140.00,532.60 L164.00,533.00" fill="none" stroke="#000" stroke-width="2.1" stroke-linejoin="round"/>
<path d="M224.00,533.50 L226.20,533.50 L229.20,527.30 L233.10,518.00 L235.40,510.40 L236.60,499.60 L237.20,481.00 L238.20,458.80 L239.20,465.80 L240.00,476.50 L241.50,448.00 L242.80,468.80 L243.80,472.00 L244.60,467.30 L246.20,468.00 L247.40,455.00 L248.50,442.70 L250.00,458.00 L251.50,481.00 L253.00,502.70 L255.40,503.50 L257.00,499.60 L258.50,492.00 L260.00,496.50 L261.50,502.70 L264.60,465.80 L266.90,444.20 L267.70,442.70 L269.20,450.40 L271.50,453.50 L273.00,465.80 L275.40,465.80 L276.90,473.50 L279.20,488.80 L281.50,512.00 L283.00,524.20 L286.20,531.20 L290.80,533.50 L290.80,533.20 L224.00,533.20 Z" fill="#a2a2a2" stroke="#7a7a7a" stroke-width="0.7"/>
<line x1="204.20" y1="436.40" x2="301.00" y2="436.40" stroke="#9a9a9a" stroke-width="1.2"/>
<line x1="301.00" y1="436.40" x2="301.00" y2="533.20" stroke="#9a9a9a" stroke-width="1.2"/>
<line x1="204.20" y1="436.40" x2="204.20" y2="533.20" stroke="#999" stroke-width="1.2"/>
<line x1="204.20" y1="533.20" x2="301.00" y2="533.20" stroke="#888" stroke-width="1.2"/>
<line x1="203.00" y1="529.54" x2="204.20" y2="529.54" stroke="#aaa" stroke-width="0.8"/>
<line x1="203.00" y1="525.88" x2="204.20" y2="525.88" stroke="#aaa" stroke-width="0.8"/>
<line x1="203.00" y1="522.22" x2="204.20" y2="522.22" stroke="#aaa" stroke-width="0.8"/>
<line x1="203.00" y1="518.56" x2="204.20" y2="518.56" stroke="#aaa" stroke-width="0.8"/>
<line x1="203.00" y1="514.90" x2="204.20" y2="514.90" stroke="#aaa" stroke-width="0.8"/>
<line x1="203.00" y1="511.24" x2="204.20" y2="511.24" stroke="#aaa" stroke-width="0.8"/>
<line x1="203.00" y1="507.58" x2="204.20" y2="507.58" stroke="#aaa" stroke-width="0.8"/>
<line x1="203.00" y1="503.92" x2="204.20" y2="503.92" stroke="#aaa" stroke-width="0.8"/>
<line x1="203.00" y1="500.26" x2="204.20" y2="500.26" stroke="#aaa" stroke-width="0.8"/>
<line x1="203.00" y1="496.60" x2="204.20" y2="496.60" stroke="#aaa" stroke-width="0.8"/>
<line x1="203.00" y1="492.94" x2="204.20" y2="492.94" stroke="#aaa" stroke-width="0.8"/>
<line x1="203.00" y1="489.28" x2="204.20" y2="489.28" stroke="#aaa" stroke-width="0.8"/>
<line x1="203.00" y1="485.62" x2="204.20" y2="485.62" stroke="#aaa" stroke-width="0.8"/>
<line x1="203.00" y1="481.96" x2="204.20" y2="481.96" stroke="#aaa" stroke-width="0.8"/>
<line x1="203.00" y1="478.30" x2="204.20" y2="478.30" stroke="#aaa" stroke-width="0.8"/>
<line x1="203.00" y1="474.64" x2="204.20" y2="474.64" stroke="#aaa" stroke-width="0.8"/>
<line x1="203.00" y1="470.98" x2="204.20" y2="470.98" stroke="#aaa" stroke-width="0.8"/>
<line x1="203.00" y1="467.32" x2="204.20" y2="467.32" stroke="#aaa" stroke-width="0.8"/>
<line x1="203.00" y1="463.66" x2="204.20" y2="463.66" stroke="#aaa" stroke-width="0.8"/>
<line x1="203.00" y1="460.00" x2="204.20" y2="460.00" stroke="#aaa" stroke-width="0.8"/>
<line x1="203.00" y1="456.34" x2="204.20" y2="456.34" stroke="#aaa" stroke-width="0.8"/>
<line x1="203.00" y1="452.68" x2="204.20" y2="452.68" stroke="#aaa" stroke-width="0.8"/>
<line x1="203.00" y1="449.02" x2="204.20" y2="449.02" stroke="#aaa" stroke-width="0.8"/>
<line x1="203.00" y1="445.36" x2="204.20" y2="445.36" stroke="#aaa" stroke-width="0.8"/>
<line x1="201.20" y1="533.20" x2="204.20" y2="533.20" stroke="#666" stroke-width="1"/>
<text x="200.50" y="536.80" font-size="9.2" text-anchor="end">0</text>
<line x1="201.20" y1="514.85" x2="204.20" y2="514.85" stroke="#666" stroke-width="1"/>
<text x="200.50" y="518.45" font-size="9.2" text-anchor="end">20</text>
<line x1="201.20" y1="496.50" x2="204.20" y2="496.50" stroke="#666" stroke-width="1"/>
<text x="200.50" y="500.10" font-size="9.2" text-anchor="end">40</text>
<line x1="201.20" y1="478.15" x2="204.20" y2="478.15" stroke="#666" stroke-width="1"/>
<text x="200.50" y="481.75" font-size="9.2" text-anchor="end">60</text>
<line x1="201.20" y1="459.80" x2="204.20" y2="459.80" stroke="#666" stroke-width="1"/>
<text x="200.50" y="463.40" font-size="9.2" text-anchor="end">80</text>
<line x1="201.20" y1="441.45" x2="204.20" y2="441.45" stroke="#666" stroke-width="1"/>
<text x="200.50" y="445.05" font-size="9.2" text-anchor="end">100</text>
<line x1="214.10" y1="533.20" x2="214.10" y2="535.20" stroke="#666" stroke-width="0.8"/>
<text x="214.30" y="548.20" font-size="9" text-anchor="middle">0</text>
<line x1="221.50" y1="533.20" x2="221.50" y2="535.20" stroke="#666" stroke-width="0.8"/>
<text x="216.80" y="548.20" font-size="9">10<tspan font-size="6.5" dy="-3.6">2</tspan></text>
<line x1="245.90" y1="533.20" x2="245.90" y2="535.20" stroke="#666" stroke-width="0.8"/>
<text x="241.20" y="548.20" font-size="9">10<tspan font-size="6.5" dy="-3.6">3</tspan></text>
<line x1="268.10" y1="533.20" x2="268.10" y2="535.20" stroke="#666" stroke-width="0.8"/>
<text x="263.40" y="548.20" font-size="9">10<tspan font-size="6.5" dy="-3.6">4</tspan></text>
<line x1="290.20" y1="533.20" x2="290.20" y2="535.20" stroke="#666" stroke-width="0.8"/>
<text x="285.50" y="548.20" font-size="9">10<tspan font-size="6.5" dy="-3.6">5</tspan></text>
<path d="M204.50,533.00 L220.00,533.00 L224.60,532.20 L227.70,532.70 L232.30,530.40 L235.40,526.50 L238.50,522.70 L240.00,515.00 L241.50,502.70 L242.80,498.80 L243.80,507.30 L244.90,511.90 L246.20,505.80 L247.70,495.00 L250.00,492.70 L251.50,496.50 L253.00,516.50 L254.60,520.40 L257.70,520.40 L260.00,516.50 L261.50,507.30 L263.00,493.50 L264.60,473.50 L266.20,453.50 L267.70,442.70 L269.20,447.30 L270.80,452.00 L272.30,453.50 L273.80,468.80 L275.00,466.50 L276.20,470.40 L277.70,481.00 L280.00,499.60 L281.50,515.00 L283.80,527.30 L286.90,530.40 L290.00,533.00 L301.00,533.00" fill="none" stroke="#000" stroke-width="2.1" stroke-linejoin="round"/>
<path d="M90.00,655.00 L93.00,652.00 L96.00,643.00 L98.00,633.00 L100.00,618.00 L102.00,600.00 L103.50,585.00 L104.50,572.00 L105.20,568.00 L106.00,571.00 L107.00,569.00 L108.00,566.00 L109.00,567.00 L110.00,575.00 L111.50,590.00 L113.50,601.00 L116.00,614.00 L118.50,626.00 L121.00,637.00 L124.00,646.00 L128.00,652.00 L133.00,655.00 L133.00,655.50 L90.00,655.50 Z" fill="#a2a2a2" stroke="#7a7a7a" stroke-width="0.7"/>
<line x1="67.80" y1="558.60" x2="164.60" y2="558.60" stroke="#9a9a9a" stroke-width="1.2"/>
<line x1="164.60" y1="558.60" x2="164.60" y2="655.50" stroke="#9a9a9a" stroke-width="1.2"/>
<line x1="67.80" y1="558.60" x2="67.80" y2="655.50" stroke="#999" stroke-width="1.2"/>
<line x1="67.80" y1="655.50" x2="164.60" y2="655.50" stroke="#888" stroke-width="1.2"/>
<line x1="66.60" y1="651.84" x2="67.80" y2="651.84" stroke="#aaa" stroke-width="0.8"/>
<line x1="66.60" y1="648.18" x2="67.80" y2="648.18" stroke="#aaa" stroke-width="0.8"/>
<line x1="66.60" y1="644.52" x2="67.80" y2="644.52" stroke="#aaa" stroke-width="0.8"/>
<line x1="66.60" y1="640.86" x2="67.80" y2="640.86" stroke="#aaa" stroke-width="0.8"/>
<line x1="66.60" y1="637.20" x2="67.80" y2="637.20" stroke="#aaa" stroke-width="0.8"/>
<line x1="66.60" y1="633.54" x2="67.80" y2="633.54" stroke="#aaa" stroke-width="0.8"/>
<line x1="66.60" y1="629.88" x2="67.80" y2="629.88" stroke="#aaa" stroke-width="0.8"/>
<line x1="66.60" y1="626.22" x2="67.80" y2="626.22" stroke="#aaa" stroke-width="0.8"/>
<line x1="66.60" y1="622.56" x2="67.80" y2="622.56" stroke="#aaa" stroke-width="0.8"/>
<line x1="66.60" y1="618.90" x2="67.80" y2="618.90" stroke="#aaa" stroke-width="0.8"/>
<line x1="66.60" y1="615.24" x2="67.80" y2="615.24" stroke="#aaa" stroke-width="0.8"/>
<line x1="66.60" y1="611.58" x2="67.80" y2="611.58" stroke="#aaa" stroke-width="0.8"/>
<line x1="66.60" y1="607.92" x2="67.80" y2="607.92" stroke="#aaa" stroke-width="0.8"/>
<line x1="66.60" y1="604.26" x2="67.80" y2="604.26" stroke="#aaa" stroke-width="0.8"/>
<line x1="66.60" y1="600.60" x2="67.80" y2="600.60" stroke="#aaa" stroke-width="0.8"/>
<line x1="66.60" y1="596.94" x2="67.80" y2="596.94" stroke="#aaa" stroke-width="0.8"/>
<line x1="66.60" y1="593.28" x2="67.80" y2="593.28" stroke="#aaa" stroke-width="0.8"/>
<line x1="66.60" y1="589.62" x2="67.80" y2="589.62" stroke="#aaa" stroke-width="0.8"/>
<line x1="66.60" y1="585.96" x2="67.80" y2="585.96" stroke="#aaa" stroke-width="0.8"/>
<line x1="66.60" y1="582.30" x2="67.80" y2="582.30" stroke="#aaa" stroke-width="0.8"/>
<line x1="66.60" y1="578.64" x2="67.80" y2="578.64" stroke="#aaa" stroke-width="0.8"/>
<line x1="66.60" y1="574.98" x2="67.80" y2="574.98" stroke="#aaa" stroke-width="0.8"/>
<line x1="66.60" y1="571.32" x2="67.80" y2="571.32" stroke="#aaa" stroke-width="0.8"/>
<line x1="66.60" y1="567.66" x2="67.80" y2="567.66" stroke="#aaa" stroke-width="0.8"/>
<line x1="64.80" y1="655.50" x2="67.80" y2="655.50" stroke="#666" stroke-width="1"/>
<text x="64.10" y="659.10" font-size="9.2" text-anchor="end">0</text>
<line x1="64.80" y1="637.15" x2="67.80" y2="637.15" stroke="#666" stroke-width="1"/>
<text x="64.10" y="640.75" font-size="9.2" text-anchor="end">20</text>
<line x1="64.80" y1="618.80" x2="67.80" y2="618.80" stroke="#666" stroke-width="1"/>
<text x="64.10" y="622.40" font-size="9.2" text-anchor="end">40</text>
<line x1="64.80" y1="600.45" x2="67.80" y2="600.45" stroke="#666" stroke-width="1"/>
<text x="64.10" y="604.05" font-size="9.2" text-anchor="end">60</text>
<line x1="64.80" y1="582.10" x2="67.80" y2="582.10" stroke="#666" stroke-width="1"/>
<text x="64.10" y="585.70" font-size="9.2" text-anchor="end">80</text>
<line x1="64.80" y1="563.75" x2="67.80" y2="563.75" stroke="#666" stroke-width="1"/>
<text x="64.10" y="567.35" font-size="9.2" text-anchor="end">100</text>
<line x1="77.70" y1="655.50" x2="77.70" y2="657.50" stroke="#666" stroke-width="0.8"/>
<text x="77.90" y="670.50" font-size="9" text-anchor="middle">0</text>
<line x1="85.10" y1="655.50" x2="85.10" y2="657.50" stroke="#666" stroke-width="0.8"/>
<text x="80.40" y="670.50" font-size="9">10<tspan font-size="6.5" dy="-3.6">2</tspan></text>
<line x1="109.50" y1="655.50" x2="109.50" y2="657.50" stroke="#666" stroke-width="0.8"/>
<text x="104.80" y="670.50" font-size="9">10<tspan font-size="6.5" dy="-3.6">3</tspan></text>
<line x1="131.70" y1="655.50" x2="131.70" y2="657.50" stroke="#666" stroke-width="0.8"/>
<text x="127.00" y="670.50" font-size="9">10<tspan font-size="6.5" dy="-3.6">4</tspan></text>
<line x1="153.80" y1="655.50" x2="153.80" y2="657.50" stroke="#666" stroke-width="0.8"/>
<text x="149.10" y="670.50" font-size="9">10<tspan font-size="6.5" dy="-3.6">5</tspan></text>
<path d="M68.00,655.00 L80.00,655.00 L86.00,654.30 L90.50,651.30 L94.30,645.30 L96.60,636.30 L98.80,621.20 L101.00,604.70 L103.30,588.10 L104.80,580.60 L107.10,574.60 L108.20,566.00 L108.90,563.50 L109.60,566.00 L110.10,573.00 L111.60,589.60 L113.90,600.10 L116.10,615.20 L118.40,624.20 L120.60,634.70 L123.60,643.80 L127.40,649.80 L132.70,653.60 L140.20,655.00 L164.00,655.00" fill="none" stroke="#000" stroke-width="2.1" stroke-linejoin="round"/>
<path d="M228.00,655.00 L234.00,651.30 L238.50,643.80 L240.80,627.30 L242.30,630.30 L244.60,628.80 L246.10,631.80 L248.30,627.30 L249.40,634.80 L251.30,638.50 L253.60,638.50 L255.10,634.80 L257.40,628.00 L259.60,610.00 L261.10,592.00 L262.60,583.00 L263.40,566.00 L264.40,564.50 L265.60,567.50 L267.20,563.80 L268.70,568.30 L270.20,581.00 L271.70,593.00 L273.90,611.00 L276.20,626.00 L277.70,635.00 L279.20,644.00 L281.50,650.30 L285.20,654.00 L288.00,655.00 L288.00,655.50 L228.00,655.50 Z" fill="#a2a2a2" stroke="#7a7a7a" stroke-width="0.7"/>
<line x1="204.20" y1="558.60" x2="301.00" y2="558.60" stroke="#9a9a9a" stroke-width="1.2"/>
<line x1="301.00" y1="558.60" x2="301.00" y2="655.50" stroke="#9a9a9a" stroke-width="1.2"/>
<line x1="204.20" y1="558.60" x2="204.20" y2="655.50" stroke="#999" stroke-width="1.2"/>
<line x1="204.20" y1="655.50" x2="301.00" y2="655.50" stroke="#888" stroke-width="1.2"/>
<line x1="203.00" y1="651.84" x2="204.20" y2="651.84" stroke="#aaa" stroke-width="0.8"/>
<line x1="203.00" y1="648.18" x2="204.20" y2="648.18" stroke="#aaa" stroke-width="0.8"/>
<line x1="203.00" y1="644.52" x2="204.20" y2="644.52" stroke="#aaa" stroke-width="0.8"/>
<line x1="203.00" y1="640.86" x2="204.20" y2="640.86" stroke="#aaa" stroke-width="0.8"/>
<line x1="203.00" y1="637.20" x2="204.20" y2="637.20" stroke="#aaa" stroke-width="0.8"/>
<line x1="203.00" y1="633.54" x2="204.20" y2="633.54" stroke="#aaa" stroke-width="0.8"/>
<line x1="203.00" y1="629.88" x2="204.20" y2="629.88" stroke="#aaa" stroke-width="0.8"/>
<line x1="203.00" y1="626.22" x2="204.20" y2="626.22" stroke="#aaa" stroke-width="0.8"/>
<line x1="203.00" y1="622.56" x2="204.20" y2="622.56" stroke="#aaa" stroke-width="0.8"/>
<line x1="203.00" y1="618.90" x2="204.20" y2="618.90" stroke="#aaa" stroke-width="0.8"/>
<line x1="203.00" y1="615.24" x2="204.20" y2="615.24" stroke="#aaa" stroke-width="0.8"/>
<line x1="203.00" y1="611.58" x2="204.20" y2="611.58" stroke="#aaa" stroke-width="0.8"/>
<line x1="203.00" y1="607.92" x2="204.20" y2="607.92" stroke="#aaa" stroke-width="0.8"/>
<line x1="203.00" y1="604.26" x2="204.20" y2="604.26" stroke="#aaa" stroke-width="0.8"/>
<line x1="203.00" y1="600.60" x2="204.20" y2="600.60" stroke="#aaa" stroke-width="0.8"/>
<line x1="203.00" y1="596.94" x2="204.20" y2="596.94" stroke="#aaa" stroke-width="0.8"/>
<line x1="203.00" y1="593.28" x2="204.20" y2="593.28" stroke="#aaa" stroke-width="0.8"/>
<line x1="203.00" y1="589.62" x2="204.20" y2="589.62" stroke="#aaa" stroke-width="0.8"/>
<line x1="203.00" y1="585.96" x2="204.20" y2="585.96" stroke="#aaa" stroke-width="0.8"/>
<line x1="203.00" y1="582.30" x2="204.20" y2="582.30" stroke="#aaa" stroke-width="0.8"/>
<line x1="203.00" y1="578.64" x2="204.20" y2="578.64" stroke="#aaa" stroke-width="0.8"/>
<line x1="203.00" y1="574.98" x2="204.20" y2="574.98" stroke="#aaa" stroke-width="0.8"/>
<line x1="203.00" y1="571.32" x2="204.20" y2="571.32" stroke="#aaa" stroke-width="0.8"/>
<line x1="203.00" y1="567.66" x2="204.20" y2="567.66" stroke="#aaa" stroke-width="0.8"/>
<line x1="201.20" y1="655.50" x2="204.20" y2="655.50" stroke="#666" stroke-width="1"/>
<text x="200.50" y="659.10" font-size="9.2" text-anchor="end">0</text>
<line x1="201.20" y1="637.15" x2="204.20" y2="637.15" stroke="#666" stroke-width="1"/>
<text x="200.50" y="640.75" font-size="9.2" text-anchor="end">20</text>
<line x1="201.20" y1="618.80" x2="204.20" y2="618.80" stroke="#666" stroke-width="1"/>
<text x="200.50" y="622.40" font-size="9.2" text-anchor="end">40</text>
<line x1="201.20" y1="600.45" x2="204.20" y2="600.45" stroke="#666" stroke-width="1"/>
<text x="200.50" y="604.05" font-size="9.2" text-anchor="end">60</text>
<line x1="201.20" y1="582.10" x2="204.20" y2="582.10" stroke="#666" stroke-width="1"/>
<text x="200.50" y="585.70" font-size="9.2" text-anchor="end">80</text>
<line x1="201.20" y1="563.75" x2="204.20" y2="563.75" stroke="#666" stroke-width="1"/>
<text x="200.50" y="567.35" font-size="9.2" text-anchor="end">100</text>
<line x1="214.10" y1="655.50" x2="214.10" y2="657.50" stroke="#666" stroke-width="0.8"/>
<text x="214.30" y="670.50" font-size="9" text-anchor="middle">0</text>
<line x1="221.50" y1="655.50" x2="221.50" y2="657.50" stroke="#666" stroke-width="0.8"/>
<text x="216.80" y="670.50" font-size="9">10<tspan font-size="6.5" dy="-3.6">2</tspan></text>
<line x1="245.90" y1="655.50" x2="245.90" y2="657.50" stroke="#666" stroke-width="0.8"/>
<text x="241.20" y="670.50" font-size="9">10<tspan font-size="6.5" dy="-3.6">3</tspan></text>
<line x1="268.10" y1="655.50" x2="268.10" y2="657.50" stroke="#666" stroke-width="0.8"/>
<text x="263.40" y="670.50" font-size="9">10<tspan font-size="6.5" dy="-3.6">4</tspan></text>
<line x1="290.20" y1="655.50" x2="290.20" y2="657.50" stroke="#666" stroke-width="0.8"/>
<text x="285.50" y="670.50" font-size="9">10<tspan font-size="6.5" dy="-3.6">5</tspan></text>
<path d="M204.50,655.00 L225.00,654.70 L231.00,653.60 L235.50,652.10 L239.30,647.60 L242.30,643.80 L244.60,640.80 L246.10,637.00 L247.60,638.50 L249.80,642.30 L252.10,644.60 L253.60,646.80 L255.10,642.30 L257.40,630.30 L259.60,612.20 L261.10,594.10 L262.60,585.10 L263.40,567.00 L264.40,565.50 L265.60,568.50 L267.20,564.80 L269.30,571.50 L270.00,577.60 L271.20,585.00 L272.30,594.10 L273.80,604.60 L274.80,612.10 L276.00,622.70 L277.30,628.70 L278.30,633.20 L279.10,639.20 L280.30,646.70 L281.80,652.00 L284.30,654.20 L295.00,654.70 L301.00,655.00" fill="none" stroke="#000" stroke-width="2.1" stroke-linejoin="round"/>
<text x="0.40" y="492.30" font-size="13.6" textLength="27.3" lengthAdjust="spacingAndGlyphs">CD8</text>
<text x="30.30" y="492.30" font-size="16.5" font-style="italic" font-family="Liberation Serif">α</text>
<text x="41.80" y="492.30" font-size="13.6">+</text>
<text x="4.20" y="613.20" font-size="13.6" textLength="27.3" lengthAdjust="spacingAndGlyphs">CD8</text>
<text x="34.10" y="613.20" font-size="16.5" font-style="italic" font-family="Liberation Serif">α</text>
<text x="46.00" y="613.20" font-size="13.6">-</text>
<line x1="18.00" y1="650.00" x2="18.00" y2="678.35" stroke="#111" stroke-width="1.1"/>
<line x1="17.45" y1="677.80" x2="47.00" y2="677.80" stroke="#111" stroke-width="1.1"/>
<path d="M18.0,646 L15.3,651.2 L20.7,651.2 Z" fill="#111"/>
<path d="M51,677.8 L45.8,675.3 L45.8,680.3 Z" fill="#111"/>
<text transform="translate(11.40,662.70) rotate(-90)" x="0" y="0" font-size="14.2" text-anchor="middle">% max</text>
<text x="18.20" y="693.60" font-size="13.4" textLength="36" lengthAdjust="spacingAndGlyphs">CD86</text>
<line x1="352.80" y1="442.50" x2="352.80" y2="533.80" stroke="#666" stroke-width="1.1"/>
<line x1="352.80" y1="533.80" x2="446.50" y2="533.80" stroke="#555" stroke-width="1.1"/>
<line x1="350.60" y1="533.80" x2="352.80" y2="533.80" stroke="#555" stroke-width="1"/>
<text x="350.60" y="537.70" font-size="10.9" text-anchor="end">0</text>
<line x1="350.60" y1="503.57" x2="352.80" y2="503.57" stroke="#555" stroke-width="1"/>
<text x="350.60" y="507.47" font-size="10.9" text-anchor="end">2500</text>
<line x1="350.60" y1="473.33" x2="352.80" y2="473.33" stroke="#555" stroke-width="1"/>
<text x="350.60" y="477.23" font-size="10.9" text-anchor="end">5000</text>
<line x1="350.60" y1="443.10" x2="352.80" y2="443.10" stroke="#555" stroke-width="1"/>
<text x="350.60" y="447.00" font-size="10.9" text-anchor="end">7500</text>
<line x1="363.80" y1="533.80" x2="363.80" y2="536.80" stroke="#555" stroke-width="1"/>
<line x1="386.90" y1="533.80" x2="386.90" y2="536.80" stroke="#555" stroke-width="1"/>
<line x1="409.60" y1="533.80" x2="409.60" y2="536.80" stroke="#555" stroke-width="1"/>
<line x1="432.70" y1="533.80" x2="432.70" y2="536.80" stroke="#555" stroke-width="1"/>
<text x="330.60" y="547.80" font-size="11.3">CpG</text>
<text x="364.10" y="546.40" font-size="11" text-anchor="middle">-</text>
<text x="387.20" y="546.40" font-size="11" text-anchor="middle">-</text>
<text x="409.90" y="546.40" font-size="11" text-anchor="middle">+</text>
<text x="433.00" y="546.40" font-size="11" text-anchor="middle">+</text>
<text transform="translate(317.90,485.80) rotate(-90)" x="0" y="0" font-size="10.5" text-anchor="middle" textLength="50" lengthAdjust="spacingAndGlyphs">CD86 MFI</text>
<circle cx="357.7" cy="520.30" r="2.4" fill="#000"/>
<circle cx="364" cy="520.80" r="2.4" fill="#000"/>
<circle cx="367.9" cy="521.60" r="2.4" fill="#000"/>
<circle cx="364" cy="527.40" r="2.4" fill="#000"/>
<circle cx="383.6" cy="519.90" r="2.2" fill="#fff" stroke="#000" stroke-width="0.8"/>
<circle cx="387.3" cy="518.90" r="2.2" fill="#fff" stroke="#000" stroke-width="0.8"/>
<circle cx="388.3" cy="520.90" r="2.2" fill="#fff" stroke="#000" stroke-width="0.8"/>
<circle cx="391" cy="520.20" r="2.2" fill="#fff" stroke="#000" stroke-width="0.8"/>
<path d="M410.2,502.00 L407.70,506.50 L412.70,506.50 Z" fill="#000"/>
<path d="M410.2,509.60 L407.70,514.10 L412.70,514.10 Z" fill="#000"/>
<path d="M406.3,515.00 L403.80,519.50 L408.80,519.50 Z" fill="#000"/>
<path d="M413.5,515.80 L411.00,520.30 L416.00,520.30 Z" fill="#000"/>
<path d="M410.2,519.20 L407.70,523.70 L412.70,523.70 Z" fill="#000"/>
<path d="M433.1,446.40 L430.70,450.60 L435.50,450.60 Z" fill="#fff" stroke="#000" stroke-width="0.9"/>
<path d="M436.4,480.00 L434.00,484.20 L438.80,484.20 Z" fill="#fff" stroke="#000" stroke-width="0.9"/>
<path d="M433.1,485.50 L430.70,489.70 L435.50,489.70 Z" fill="#fff" stroke="#000" stroke-width="0.9"/>
<path d="M433.1,493.10 L430.70,497.30 L435.50,497.30 Z" fill="#fff" stroke="#000" stroke-width="0.9"/>
<path d="M433.1,510.40 L430.70,514.60 L435.50,514.60 Z" fill="#fff" stroke="#000" stroke-width="0.9"/>
<line x1="358.00" y1="520.80" x2="370.00" y2="520.80" stroke="#000" stroke-width="0.9"/>
<line x1="404.80" y1="516.90" x2="415.40" y2="516.90" stroke="#000" stroke-width="0.9"/>
<line x1="427.00" y1="487.30" x2="438.80" y2="487.30" stroke="#000" stroke-width="0.9"/>
<text x="405.30" y="441.00" font-size="10.8">p=0.03</text>
<line x1="414.00" y1="442.90" x2="429.00" y2="442.90" stroke="#555" stroke-width="1"/>
<text x="359.50" y="509.30" font-size="10.8">p=0.06</text>
<line x1="368.30" y1="510.50" x2="383.70" y2="510.50" stroke="#666" stroke-width="1"/>
<line x1="352.80" y1="565.00" x2="352.80" y2="656.30" stroke="#666" stroke-width="1.1"/>
<line x1="352.80" y1="656.30" x2="446.50" y2="656.30" stroke="#555" stroke-width="1.1"/>
<line x1="350.60" y1="656.30" x2="352.80" y2="656.30" stroke="#555" stroke-width="1"/>
<text x="350.60" y="660.20" font-size="10.9" text-anchor="end">0</text>
<line x1="350.60" y1="626.07" x2="352.80" y2="626.07" stroke="#555" stroke-width="1"/>
<text x="350.60" y="629.97" font-size="10.9" text-anchor="end">2500</text>
<line x1="350.60" y1="595.83" x2="352.80" y2="595.83" stroke="#555" stroke-width="1"/>
<text x="350.60" y="599.73" font-size="10.9" text-anchor="end">5000</text>
<line x1="350.60" y1="565.60" x2="352.80" y2="565.60" stroke="#555" stroke-width="1"/>
<text x="350.60" y="569.50" font-size="10.9" text-anchor="end">7500</text>
<line x1="363.80" y1="656.30" x2="363.80" y2="659.30" stroke="#555" stroke-width="1"/>
<line x1="386.90" y1="656.30" x2="386.90" y2="659.30" stroke="#555" stroke-width="1"/>
<line x1="409.60" y1="656.30" x2="409.60" y2="659.30" stroke="#555" stroke-width="1"/>
<line x1="432.70" y1="656.30" x2="432.70" y2="659.30" stroke="#555" stroke-width="1"/>
<text x="330.60" y="670.30" font-size="11.3">CpG</text>
<text x="364.10" y="668.90" font-size="11" text-anchor="middle">-</text>
<text x="387.20" y="668.90" font-size="11" text-anchor="middle">-</text>
<text x="409.90" y="668.90" font-size="11" text-anchor="middle">+</text>
<text x="433.00" y="668.90" font-size="11" text-anchor="middle">+</text>
<text transform="translate(319.50,607.30) rotate(-90)" x="0" y="0" font-size="10.5" text-anchor="middle" textLength="50" lengthAdjust="spacingAndGlyphs">CD86 MFI</text>
<circle cx="360.5" cy="648.30" r="2.4" fill="#000"/>
<circle cx="363.5" cy="648.80" r="2.4" fill="#000"/>
<circle cx="365.8" cy="646.40" r="2.4" fill="#000"/>
<circle cx="368.0" cy="648.30" r="2.4" fill="#000"/>
<circle cx="366.3" cy="649.20" r="2.4" fill="#000"/>
<circle cx="383.6" cy="648.90" r="2.2" fill="#fff" stroke="#000" stroke-width="0.8"/>
<circle cx="386.6" cy="649.30" r="2.2" fill="#fff" stroke="#000" stroke-width="0.8"/>
<circle cx="388.9" cy="646.50" r="2.2" fill="#fff" stroke="#000" stroke-width="0.8"/>
<circle cx="390.8" cy="648.90" r="2.2" fill="#fff" stroke="#000" stroke-width="0.8"/>
<path d="M403.5,583.70 L401.00,588.20 L406.00,588.20 Z" fill="#000"/>
<path d="M406.2,590.40 L403.70,594.90 L408.70,594.90 Z" fill="#000"/>
<path d="M409.9,589.70 L407.40,594.20 L412.40,594.20 Z" fill="#000"/>
<path d="M413.3,593.60 L410.80,598.10 L415.80,598.10 Z" fill="#000"/>
<path d="M410.2,596.60 L407.70,601.10 L412.70,601.10 Z" fill="#000"/>
<path d="M426.4,582.00 L424.00,586.20 L428.80,586.20 Z" fill="#fff" stroke="#000" stroke-width="0.9"/>
<path d="M435.8,577.40 L433.40,581.60 L438.20,581.60 Z" fill="#fff" stroke="#000" stroke-width="0.9"/>
<path d="M433.1,583.40 L430.70,587.60 L435.50,587.60 Z" fill="#fff" stroke="#000" stroke-width="0.9"/>
<path d="M435.8,587.40 L433.40,591.60 L438.20,591.60 Z" fill="#fff" stroke="#000" stroke-width="0.9"/>
<path d="M433.1,592.00 L430.70,596.20 L435.50,596.20 Z" fill="#fff" stroke="#000" stroke-width="0.9"/>
<line x1="404.10" y1="593.10" x2="415.70" y2="593.10" stroke="#000" stroke-width="0.9"/>
<line x1="430.60" y1="585.20" x2="438.80" y2="585.20" stroke="#000" stroke-width="0.9"/>
<circle cx="446.6" cy="675.1" r="2.5" fill="#000"/>
<path d="M456.5,671.3 L453.1,677.6 L459.9,677.6 Z" fill="#000"/>
<circle cx="447.1" cy="690.6" r="2.4" fill="#fff" stroke="#000" stroke-width="0.9"/>
<path d="M456.5,687.6 L453.5,693.0 L459.5,693.0 Z" fill="#fff" stroke="#000" stroke-width="0.9"/>
<text x="463.8" y="678.6" font-size="11.5" font-style="italic" textLength="54.6" lengthAdjust="spacingAndGlyphs">H6pdh +/+</text>
<text x="463.8" y="693.9" font-size="11.5" font-style="italic" textLength="49.3" lengthAdjust="spacingAndGlyphs">H6pdh -/-</text>
</svg>
</body></html>
